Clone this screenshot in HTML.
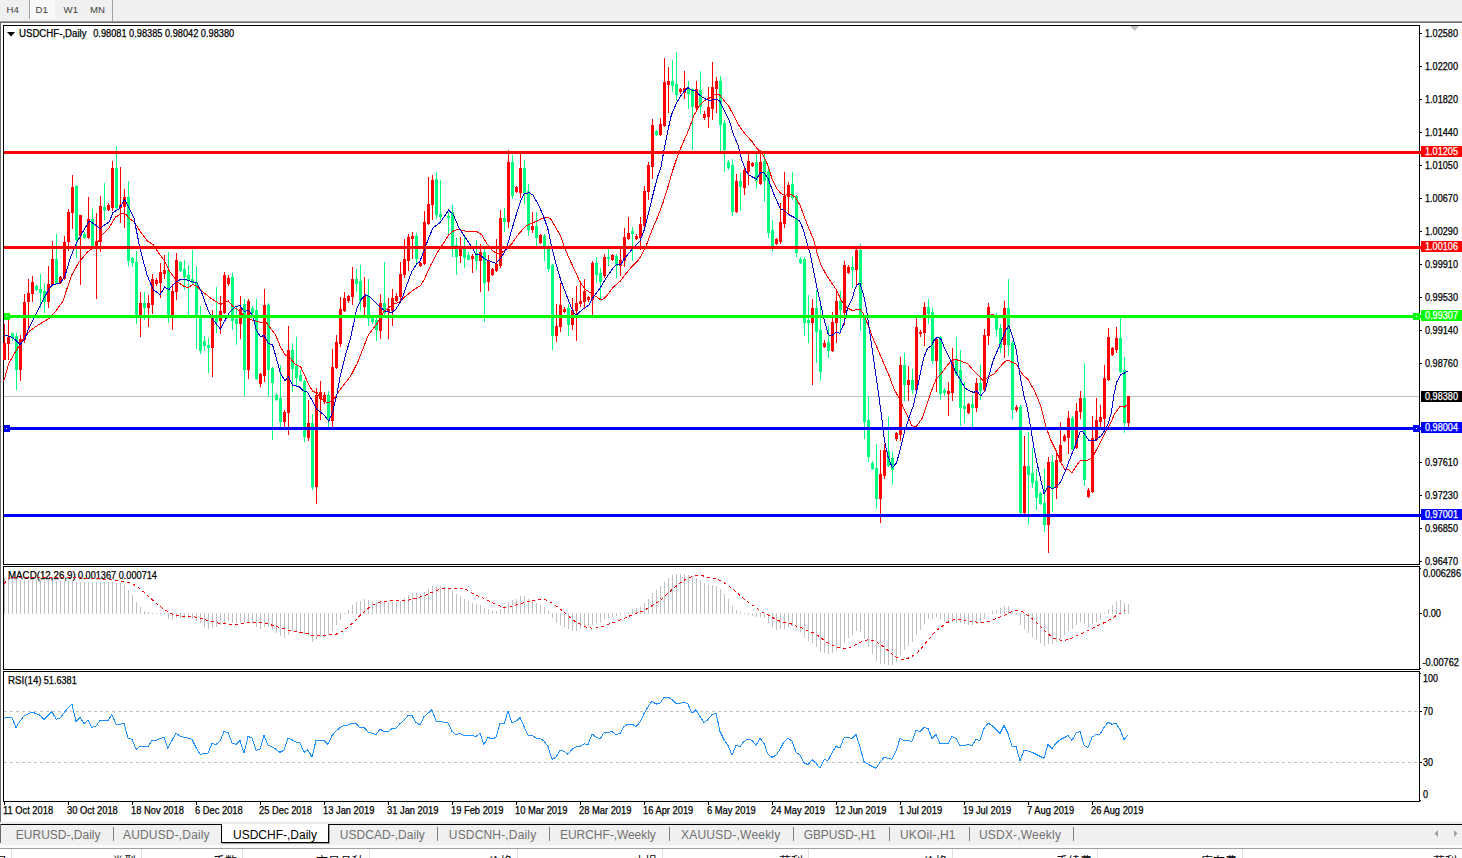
<!DOCTYPE html>
<html lang="zh"><head><meta charset="utf-8"><title>USDCHF-,Daily</title>
<style>
html,body{margin:0;padding:0;background:#fff;}
body{width:1462px;height:858px;overflow:hidden;position:relative;font-family:"Liberation Sans","Noto Sans CJK SC",sans-serif;}
#tb{position:absolute;left:0;top:0;width:1462px;height:21px;background:#f0f0f0;}
#tb span{position:absolute;top:3.75px;font-size:9.6px;line-height:12px;color:#404040;white-space:nowrap;}
#d1{position:absolute;left:30px;top:0;width:25px;height:19px;background:#f8f8f8;}
.vs{position:absolute;top:0;width:1px;height:19px;background:#a0a0a0;}
#chart{position:absolute;left:0;top:0;}
#chart text{font-family:"Liberation Sans",sans-serif;font-size:10px;fill:#000;stroke:#000;stroke-width:.25px;}
#tabs{position:absolute;left:0;top:825px;width:1462px;height:20px;background:#f0f0f0;}
#tabs span{position:absolute;top:3px;font-size:12px;line-height:15px;color:#707070;white-space:nowrap;}
#tabs i{position:absolute;top:2px;width:1px;height:14px;background:#808080;}
#act{position:absolute;left:221px;top:824px;width:106px;height:18px;background:#fff;border:1px solid #000;border-top:none;box-shadow:1px 1px 0 #a0a0a0;}
#act span{position:absolute;left:11px;top:4px;font-size:12px;line-height:15px;color:#000;white-space:nowrap;}
#hdr{position:absolute;left:0;top:849px;width:1462px;height:9px;background:#fff;overflow:hidden;}
#hdr span{position:absolute;top:7px;font-size:12px;line-height:13px;color:#000;white-space:nowrap;}
#hdr i{position:absolute;top:0;width:1px;height:9px;background:#e0e0e0;}
</style></head><body>
<div id="tb"><div id="d1"></div><div class="vs" style="left:29px"></div><div class="vs" style="left:112px;height:21px"></div>
<span style="left:6.6px">H4</span>
<span style="left:35.6px">D1</span>
<span style="left:63.6px">W1</span>
<span style="left:89.9px">MN</span>
</div>
<svg id="chart" width="1462" height="858" viewBox="0 0 1462 858">
<g shape-rendering="crispEdges">
<rect x="0" y="21" width="1462" height="1" fill="#a0a0a0"/>
<rect x="0" y="22" width="1462" height="1" fill="#696969"/>
<rect x="0" y="23" width="1" height="799" fill="#696969"/>
<rect x="3" y="25" width="1417" height="1" fill="#000"/>
<rect x="3" y="564" width="1417" height="1" fill="#000"/>
<rect x="3" y="25" width="1" height="540" fill="#000"/>
<rect x="1419" y="25" width="1" height="540" fill="#000"/>
<rect x="3" y="566" width="1417" height="1" fill="#000"/>
<rect x="3" y="669" width="1417" height="1" fill="#000"/>
<rect x="3" y="566" width="1" height="104" fill="#000"/>
<rect x="1419" y="566" width="1" height="104" fill="#000"/>
<rect x="3" y="671" width="1417" height="1" fill="#000"/>
<rect x="3" y="801" width="1417" height="1" fill="#000"/>
<rect x="3" y="671" width="1" height="131" fill="#000"/>
<rect x="1419" y="671" width="1" height="131" fill="#000"/>
<rect x="4" y="396" width="1415" height="1" fill="#c0c0c0"/>
</g>
<g shape-rendering="crispEdges">
<rect x="4" y="324" width="1" height="36" fill="#ff0000"/>
<rect x="3" y="343" width="3" height="17" fill="#ff0000"/>
<rect x="8" y="318" width="1" height="42" fill="#ff0000"/>
<rect x="7" y="337" width="3" height="7" fill="#ff0000"/>
<rect x="12" y="333" width="1" height="8" fill="#00ff7f"/>
<rect x="11" y="333" width="3" height="5" fill="#00ff7f"/>
<rect x="16" y="333" width="1" height="57" fill="#00ff7f"/>
<rect x="15" y="336" width="3" height="34" fill="#00ff7f"/>
<rect x="20" y="335" width="1" height="46" fill="#ff0000"/>
<rect x="19" y="339" width="3" height="31" fill="#ff0000"/>
<rect x="24" y="294" width="1" height="49" fill="#ff0000"/>
<rect x="23" y="302" width="3" height="38" fill="#ff0000"/>
<rect x="28" y="279" width="1" height="50" fill="#ff0000"/>
<rect x="27" y="293" width="3" height="9" fill="#ff0000"/>
<rect x="32" y="276" width="1" height="26" fill="#ff0000"/>
<rect x="31" y="282" width="3" height="12" fill="#ff0000"/>
<rect x="36" y="285" width="1" height="6" fill="#00ff7f"/>
<rect x="35" y="286" width="3" height="4" fill="#00ff7f"/>
<rect x="40" y="274" width="1" height="34" fill="#00ff7f"/>
<rect x="39" y="289" width="3" height="4" fill="#00ff7f"/>
<rect x="44" y="283" width="1" height="30" fill="#00ff7f"/>
<rect x="43" y="291" width="3" height="11" fill="#00ff7f"/>
<rect x="48" y="266" width="1" height="42" fill="#ff0000"/>
<rect x="47" y="284" width="3" height="18" fill="#ff0000"/>
<rect x="52" y="241" width="1" height="45" fill="#ff0000"/>
<rect x="51" y="259" width="3" height="26" fill="#ff0000"/>
<rect x="56" y="234" width="1" height="50" fill="#00ff7f"/>
<rect x="55" y="259" width="3" height="25" fill="#00ff7f"/>
<rect x="60" y="276" width="1" height="8" fill="#ff0000"/>
<rect x="59" y="277" width="3" height="6" fill="#ff0000"/>
<rect x="64" y="236" width="1" height="44" fill="#ff0000"/>
<rect x="63" y="242" width="3" height="37" fill="#ff0000"/>
<rect x="68" y="209" width="1" height="42" fill="#ff0000"/>
<rect x="67" y="212" width="3" height="30" fill="#ff0000"/>
<rect x="72" y="175" width="1" height="54" fill="#ff0000"/>
<rect x="71" y="187" width="3" height="26" fill="#ff0000"/>
<rect x="76" y="185" width="1" height="73" fill="#00ff7f"/>
<rect x="75" y="186" width="3" height="54" fill="#00ff7f"/>
<rect x="80" y="215" width="1" height="70" fill="#ff0000"/>
<rect x="79" y="215" width="3" height="21" fill="#ff0000"/>
<rect x="84" y="232" width="1" height="7" fill="#00ff7f"/>
<rect x="83" y="234" width="3" height="4" fill="#00ff7f"/>
<rect x="88" y="197" width="1" height="42" fill="#ff0000"/>
<rect x="87" y="219" width="3" height="19" fill="#ff0000"/>
<rect x="92" y="209" width="1" height="39" fill="#00ff7f"/>
<rect x="91" y="219" width="3" height="28" fill="#00ff7f"/>
<rect x="96" y="213" width="1" height="86" fill="#ff0000"/>
<rect x="95" y="241" width="3" height="6" fill="#ff0000"/>
<rect x="100" y="196" width="1" height="56" fill="#ff0000"/>
<rect x="99" y="206" width="3" height="36" fill="#ff0000"/>
<rect x="104" y="183" width="1" height="37" fill="#00ff7f"/>
<rect x="103" y="207" width="3" height="3" fill="#00ff7f"/>
<rect x="108" y="203" width="1" height="8" fill="#ff0000"/>
<rect x="107" y="205" width="3" height="5" fill="#ff0000"/>
<rect x="112" y="161" width="1" height="50" fill="#ff0000"/>
<rect x="111" y="168" width="3" height="40" fill="#ff0000"/>
<rect x="116" y="146" width="1" height="63" fill="#00ff7f"/>
<rect x="115" y="168" width="3" height="40" fill="#00ff7f"/>
<rect x="120" y="167" width="1" height="56" fill="#ff0000"/>
<rect x="119" y="205" width="3" height="3" fill="#ff0000"/>
<rect x="124" y="189" width="1" height="39" fill="#ff0000"/>
<rect x="123" y="197" width="3" height="10" fill="#ff0000"/>
<rect x="128" y="181" width="1" height="85" fill="#00ff7f"/>
<rect x="127" y="197" width="3" height="64" fill="#00ff7f"/>
<rect x="132" y="257" width="1" height="10" fill="#00ff7f"/>
<rect x="131" y="258" width="3" height="5" fill="#00ff7f"/>
<rect x="136" y="251" width="1" height="73" fill="#00ff7f"/>
<rect x="135" y="262" width="3" height="53" fill="#00ff7f"/>
<rect x="140" y="292" width="1" height="45" fill="#ff0000"/>
<rect x="139" y="303" width="3" height="14" fill="#ff0000"/>
<rect x="144" y="292" width="1" height="28" fill="#00ff7f"/>
<rect x="143" y="303" width="3" height="5" fill="#00ff7f"/>
<rect x="148" y="295" width="1" height="32" fill="#ff0000"/>
<rect x="147" y="303" width="3" height="5" fill="#ff0000"/>
<rect x="152" y="274" width="1" height="40" fill="#ff0000"/>
<rect x="151" y="279" width="3" height="26" fill="#ff0000"/>
<rect x="156" y="278" width="1" height="8" fill="#ff0000"/>
<rect x="155" y="280" width="3" height="4" fill="#ff0000"/>
<rect x="160" y="263" width="1" height="35" fill="#ff0000"/>
<rect x="159" y="272" width="3" height="11" fill="#ff0000"/>
<rect x="164" y="255" width="1" height="24" fill="#ff0000"/>
<rect x="163" y="270" width="3" height="4" fill="#ff0000"/>
<rect x="168" y="252" width="1" height="71" fill="#00ff7f"/>
<rect x="167" y="270" width="3" height="45" fill="#00ff7f"/>
<rect x="172" y="284" width="1" height="46" fill="#ff0000"/>
<rect x="171" y="291" width="3" height="24" fill="#ff0000"/>
<rect x="176" y="253" width="1" height="47" fill="#ff0000"/>
<rect x="175" y="260" width="3" height="32" fill="#ff0000"/>
<rect x="180" y="261" width="1" height="11" fill="#00ff7f"/>
<rect x="179" y="262" width="3" height="9" fill="#00ff7f"/>
<rect x="184" y="260" width="1" height="30" fill="#00ff7f"/>
<rect x="183" y="269" width="3" height="8" fill="#00ff7f"/>
<rect x="188" y="265" width="1" height="50" fill="#00ff7f"/>
<rect x="187" y="275" width="3" height="5" fill="#00ff7f"/>
<rect x="192" y="250" width="1" height="34" fill="#00ff7f"/>
<rect x="191" y="279" width="3" height="4" fill="#00ff7f"/>
<rect x="196" y="266" width="1" height="83" fill="#00ff7f"/>
<rect x="195" y="282" width="3" height="35" fill="#00ff7f"/>
<rect x="200" y="306" width="1" height="48" fill="#00ff7f"/>
<rect x="199" y="316" width="3" height="35" fill="#00ff7f"/>
<rect x="204" y="336" width="1" height="15" fill="#00ff7f"/>
<rect x="203" y="341" width="3" height="5" fill="#00ff7f"/>
<rect x="208" y="338" width="1" height="35" fill="#00ff7f"/>
<rect x="207" y="345" width="3" height="3" fill="#00ff7f"/>
<rect x="212" y="310" width="1" height="67" fill="#ff0000"/>
<rect x="211" y="316" width="3" height="32" fill="#ff0000"/>
<rect x="216" y="287" width="1" height="46" fill="#00ff7f"/>
<rect x="215" y="316" width="3" height="6" fill="#00ff7f"/>
<rect x="220" y="296" width="1" height="38" fill="#ff0000"/>
<rect x="219" y="311" width="3" height="10" fill="#ff0000"/>
<rect x="224" y="272" width="1" height="42" fill="#ff0000"/>
<rect x="223" y="275" width="3" height="38" fill="#ff0000"/>
<rect x="228" y="275" width="1" height="11" fill="#ff0000"/>
<rect x="227" y="278" width="3" height="6" fill="#ff0000"/>
<rect x="232" y="273" width="1" height="57" fill="#00ff7f"/>
<rect x="231" y="277" width="3" height="44" fill="#00ff7f"/>
<rect x="236" y="306" width="1" height="39" fill="#00ff7f"/>
<rect x="235" y="319" width="3" height="5" fill="#00ff7f"/>
<rect x="240" y="296" width="1" height="43" fill="#ff0000"/>
<rect x="239" y="309" width="3" height="15" fill="#ff0000"/>
<rect x="244" y="299" width="1" height="97" fill="#00ff7f"/>
<rect x="243" y="304" width="3" height="66" fill="#00ff7f"/>
<rect x="248" y="299" width="1" height="80" fill="#ff0000"/>
<rect x="247" y="301" width="3" height="69" fill="#ff0000"/>
<rect x="252" y="306" width="1" height="9" fill="#00ff7f"/>
<rect x="251" y="308" width="3" height="5" fill="#00ff7f"/>
<rect x="256" y="299" width="1" height="81" fill="#00ff7f"/>
<rect x="255" y="310" width="3" height="69" fill="#00ff7f"/>
<rect x="260" y="373" width="1" height="14" fill="#ff0000"/>
<rect x="259" y="374" width="3" height="10" fill="#ff0000"/>
<rect x="264" y="289" width="1" height="93" fill="#ff0000"/>
<rect x="263" y="305" width="3" height="71" fill="#ff0000"/>
<rect x="268" y="303" width="1" height="94" fill="#00ff7f"/>
<rect x="267" y="305" width="3" height="65" fill="#00ff7f"/>
<rect x="272" y="367" width="1" height="73" fill="#00ff7f"/>
<rect x="271" y="368" width="3" height="15" fill="#00ff7f"/>
<rect x="276" y="393" width="1" height="8" fill="#00ff7f"/>
<rect x="275" y="395" width="3" height="5" fill="#00ff7f"/>
<rect x="280" y="365" width="1" height="64" fill="#00ff7f"/>
<rect x="279" y="398" width="3" height="24" fill="#00ff7f"/>
<rect x="284" y="410" width="1" height="17" fill="#ff0000"/>
<rect x="283" y="412" width="3" height="10" fill="#ff0000"/>
<rect x="288" y="326" width="1" height="109" fill="#ff0000"/>
<rect x="287" y="350" width="3" height="63" fill="#ff0000"/>
<rect x="292" y="343" width="1" height="49" fill="#00ff7f"/>
<rect x="291" y="350" width="3" height="19" fill="#00ff7f"/>
<rect x="296" y="337" width="1" height="49" fill="#00ff7f"/>
<rect x="295" y="366" width="3" height="12" fill="#00ff7f"/>
<rect x="300" y="370" width="1" height="12" fill="#00ff7f"/>
<rect x="299" y="375" width="3" height="6" fill="#00ff7f"/>
<rect x="304" y="380" width="1" height="62" fill="#00ff7f"/>
<rect x="303" y="381" width="3" height="56" fill="#00ff7f"/>
<rect x="308" y="400" width="1" height="41" fill="#ff0000"/>
<rect x="307" y="423" width="3" height="15" fill="#ff0000"/>
<rect x="312" y="414" width="1" height="76" fill="#00ff7f"/>
<rect x="311" y="423" width="3" height="64" fill="#00ff7f"/>
<rect x="316" y="388" width="1" height="116" fill="#ff0000"/>
<rect x="315" y="395" width="3" height="92" fill="#ff0000"/>
<rect x="320" y="381" width="1" height="39" fill="#ff0000"/>
<rect x="319" y="392" width="3" height="7" fill="#ff0000"/>
<rect x="324" y="392" width="1" height="12" fill="#ff0000"/>
<rect x="323" y="395" width="3" height="7" fill="#ff0000"/>
<rect x="328" y="391" width="1" height="37" fill="#00ff7f"/>
<rect x="327" y="395" width="3" height="25" fill="#00ff7f"/>
<rect x="332" y="349" width="1" height="79" fill="#ff0000"/>
<rect x="331" y="367" width="3" height="54" fill="#ff0000"/>
<rect x="336" y="335" width="1" height="34" fill="#ff0000"/>
<rect x="335" y="342" width="3" height="26" fill="#ff0000"/>
<rect x="340" y="297" width="1" height="50" fill="#ff0000"/>
<rect x="339" y="309" width="3" height="35" fill="#ff0000"/>
<rect x="344" y="292" width="1" height="20" fill="#ff0000"/>
<rect x="343" y="298" width="3" height="13" fill="#ff0000"/>
<rect x="348" y="295" width="1" height="8" fill="#ff0000"/>
<rect x="347" y="296" width="3" height="5" fill="#ff0000"/>
<rect x="352" y="267" width="1" height="38" fill="#ff0000"/>
<rect x="351" y="279" width="3" height="18" fill="#ff0000"/>
<rect x="356" y="269" width="1" height="23" fill="#00ff7f"/>
<rect x="355" y="279" width="3" height="5" fill="#00ff7f"/>
<rect x="360" y="265" width="1" height="46" fill="#00ff7f"/>
<rect x="359" y="281" width="3" height="20" fill="#00ff7f"/>
<rect x="364" y="277" width="1" height="38" fill="#ff0000"/>
<rect x="363" y="296" width="3" height="11" fill="#ff0000"/>
<rect x="368" y="279" width="1" height="47" fill="#00ff7f"/>
<rect x="367" y="296" width="3" height="23" fill="#00ff7f"/>
<rect x="372" y="317" width="1" height="7" fill="#00ff7f"/>
<rect x="371" y="318" width="3" height="4" fill="#00ff7f"/>
<rect x="376" y="317" width="1" height="24" fill="#00ff7f"/>
<rect x="375" y="320" width="3" height="10" fill="#00ff7f"/>
<rect x="380" y="294" width="1" height="45" fill="#ff0000"/>
<rect x="379" y="303" width="3" height="28" fill="#ff0000"/>
<rect x="384" y="262" width="1" height="53" fill="#00ff7f"/>
<rect x="383" y="303" width="3" height="10" fill="#00ff7f"/>
<rect x="388" y="298" width="1" height="41" fill="#ff0000"/>
<rect x="387" y="309" width="3" height="3" fill="#ff0000"/>
<rect x="392" y="289" width="1" height="37" fill="#ff0000"/>
<rect x="391" y="298" width="3" height="13" fill="#ff0000"/>
<rect x="396" y="293" width="1" height="9" fill="#ff0000"/>
<rect x="395" y="296" width="3" height="5" fill="#ff0000"/>
<rect x="400" y="262" width="1" height="39" fill="#ff0000"/>
<rect x="399" y="274" width="3" height="23" fill="#ff0000"/>
<rect x="404" y="239" width="1" height="39" fill="#ff0000"/>
<rect x="403" y="259" width="3" height="16" fill="#ff0000"/>
<rect x="408" y="234" width="1" height="37" fill="#ff0000"/>
<rect x="407" y="237" width="3" height="24" fill="#ff0000"/>
<rect x="412" y="232" width="1" height="27" fill="#ff0000"/>
<rect x="411" y="236" width="3" height="3" fill="#ff0000"/>
<rect x="416" y="233" width="1" height="30" fill="#00ff7f"/>
<rect x="415" y="236" width="3" height="23" fill="#00ff7f"/>
<rect x="420" y="262" width="1" height="5" fill="#ff0000"/>
<rect x="419" y="263" width="3" height="3" fill="#ff0000"/>
<rect x="424" y="211" width="1" height="54" fill="#ff0000"/>
<rect x="423" y="222" width="3" height="42" fill="#ff0000"/>
<rect x="428" y="177" width="1" height="48" fill="#ff0000"/>
<rect x="427" y="204" width="3" height="20" fill="#ff0000"/>
<rect x="432" y="175" width="1" height="45" fill="#ff0000"/>
<rect x="431" y="180" width="3" height="25" fill="#ff0000"/>
<rect x="436" y="172" width="1" height="47" fill="#00ff7f"/>
<rect x="435" y="179" width="3" height="36" fill="#00ff7f"/>
<rect x="440" y="180" width="1" height="40" fill="#00ff7f"/>
<rect x="439" y="214" width="3" height="3" fill="#00ff7f"/>
<rect x="448" y="212" width="1" height="24" fill="#00ff7f"/>
<rect x="447" y="216" width="3" height="2" fill="#00ff7f"/>
<rect x="452" y="205" width="1" height="52" fill="#00ff7f"/>
<rect x="451" y="212" width="3" height="35" fill="#00ff7f"/>
<rect x="456" y="238" width="1" height="37" fill="#00ff7f"/>
<rect x="455" y="245" width="3" height="12" fill="#00ff7f"/>
<rect x="460" y="237" width="1" height="26" fill="#ff0000"/>
<rect x="459" y="248" width="3" height="8" fill="#ff0000"/>
<rect x="464" y="237" width="1" height="31" fill="#00ff7f"/>
<rect x="463" y="249" width="3" height="9" fill="#00ff7f"/>
<rect x="468" y="252" width="1" height="8" fill="#00ff7f"/>
<rect x="467" y="255" width="3" height="5" fill="#00ff7f"/>
<rect x="472" y="254" width="1" height="19" fill="#ff0000"/>
<rect x="471" y="256" width="3" height="3" fill="#ff0000"/>
<rect x="476" y="240" width="1" height="30" fill="#00ff7f"/>
<rect x="475" y="253" width="3" height="8" fill="#00ff7f"/>
<rect x="480" y="244" width="1" height="48" fill="#ff0000"/>
<rect x="479" y="252" width="3" height="9" fill="#ff0000"/>
<rect x="484" y="249" width="1" height="73" fill="#00ff7f"/>
<rect x="483" y="252" width="3" height="31" fill="#00ff7f"/>
<rect x="488" y="255" width="1" height="36" fill="#ff0000"/>
<rect x="487" y="260" width="3" height="22" fill="#ff0000"/>
<rect x="492" y="268" width="1" height="8" fill="#ff0000"/>
<rect x="491" y="269" width="3" height="6" fill="#ff0000"/>
<rect x="496" y="239" width="1" height="33" fill="#ff0000"/>
<rect x="495" y="264" width="3" height="7" fill="#ff0000"/>
<rect x="500" y="210" width="1" height="58" fill="#ff0000"/>
<rect x="499" y="218" width="3" height="48" fill="#ff0000"/>
<rect x="504" y="208" width="1" height="24" fill="#00ff7f"/>
<rect x="503" y="218" width="3" height="4" fill="#00ff7f"/>
<rect x="508" y="150" width="1" height="78" fill="#ff0000"/>
<rect x="507" y="162" width="3" height="60" fill="#ff0000"/>
<rect x="512" y="155" width="1" height="44" fill="#00ff7f"/>
<rect x="511" y="162" width="3" height="34" fill="#00ff7f"/>
<rect x="516" y="186" width="1" height="7" fill="#ff0000"/>
<rect x="515" y="187" width="3" height="5" fill="#ff0000"/>
<rect x="520" y="154" width="1" height="44" fill="#ff0000"/>
<rect x="519" y="168" width="3" height="25" fill="#ff0000"/>
<rect x="524" y="160" width="1" height="44" fill="#00ff7f"/>
<rect x="523" y="168" width="3" height="25" fill="#00ff7f"/>
<rect x="528" y="184" width="1" height="52" fill="#00ff7f"/>
<rect x="527" y="191" width="3" height="39" fill="#00ff7f"/>
<rect x="532" y="212" width="1" height="21" fill="#ff0000"/>
<rect x="531" y="226" width="3" height="4" fill="#ff0000"/>
<rect x="536" y="212" width="1" height="35" fill="#00ff7f"/>
<rect x="535" y="226" width="3" height="12" fill="#00ff7f"/>
<rect x="540" y="234" width="1" height="10" fill="#ff0000"/>
<rect x="539" y="235" width="3" height="8" fill="#ff0000"/>
<rect x="544" y="234" width="1" height="27" fill="#00ff7f"/>
<rect x="543" y="236" width="3" height="11" fill="#00ff7f"/>
<rect x="548" y="245" width="1" height="27" fill="#00ff7f"/>
<rect x="547" y="248" width="3" height="21" fill="#00ff7f"/>
<rect x="552" y="264" width="1" height="86" fill="#00ff7f"/>
<rect x="551" y="265" width="3" height="71" fill="#00ff7f"/>
<rect x="556" y="304" width="1" height="38" fill="#ff0000"/>
<rect x="555" y="326" width="3" height="10" fill="#ff0000"/>
<rect x="560" y="283" width="1" height="49" fill="#ff0000"/>
<rect x="559" y="305" width="3" height="22" fill="#ff0000"/>
<rect x="564" y="307" width="1" height="6" fill="#ff0000"/>
<rect x="563" y="309" width="3" height="3" fill="#ff0000"/>
<rect x="568" y="304" width="1" height="32" fill="#00ff7f"/>
<rect x="567" y="308" width="3" height="17" fill="#00ff7f"/>
<rect x="572" y="298" width="1" height="32" fill="#ff0000"/>
<rect x="571" y="310" width="3" height="15" fill="#ff0000"/>
<rect x="576" y="286" width="1" height="55" fill="#ff0000"/>
<rect x="575" y="303" width="3" height="8" fill="#ff0000"/>
<rect x="580" y="281" width="1" height="26" fill="#ff0000"/>
<rect x="579" y="301" width="3" height="3" fill="#ff0000"/>
<rect x="584" y="279" width="1" height="29" fill="#ff0000"/>
<rect x="583" y="291" width="3" height="11" fill="#ff0000"/>
<rect x="588" y="296" width="1" height="6" fill="#ff0000"/>
<rect x="587" y="297" width="3" height="3" fill="#ff0000"/>
<rect x="592" y="261" width="1" height="55" fill="#ff0000"/>
<rect x="591" y="263" width="3" height="37" fill="#ff0000"/>
<rect x="596" y="257" width="1" height="26" fill="#00ff7f"/>
<rect x="595" y="263" width="3" height="12" fill="#00ff7f"/>
<rect x="600" y="268" width="1" height="31" fill="#00ff7f"/>
<rect x="599" y="273" width="3" height="9" fill="#00ff7f"/>
<rect x="604" y="254" width="1" height="24" fill="#ff0000"/>
<rect x="603" y="257" width="3" height="19" fill="#ff0000"/>
<rect x="608" y="249" width="1" height="17" fill="#00ff7f"/>
<rect x="607" y="257" width="3" height="2" fill="#00ff7f"/>
<rect x="612" y="254" width="1" height="7" fill="#ff0000"/>
<rect x="611" y="255" width="3" height="5" fill="#ff0000"/>
<rect x="616" y="254" width="1" height="24" fill="#00ff7f"/>
<rect x="615" y="256" width="3" height="10" fill="#00ff7f"/>
<rect x="620" y="248" width="1" height="28" fill="#ff0000"/>
<rect x="619" y="260" width="3" height="6" fill="#ff0000"/>
<rect x="624" y="228" width="1" height="39" fill="#ff0000"/>
<rect x="623" y="237" width="3" height="24" fill="#ff0000"/>
<rect x="628" y="217" width="1" height="23" fill="#ff0000"/>
<rect x="627" y="233" width="3" height="6" fill="#ff0000"/>
<rect x="632" y="227" width="1" height="34" fill="#00ff7f"/>
<rect x="631" y="231" width="3" height="3" fill="#00ff7f"/>
<rect x="636" y="234" width="1" height="6" fill="#ff0000"/>
<rect x="635" y="236" width="3" height="3" fill="#ff0000"/>
<rect x="640" y="217" width="1" height="33" fill="#ff0000"/>
<rect x="639" y="224" width="3" height="14" fill="#ff0000"/>
<rect x="644" y="186" width="1" height="41" fill="#ff0000"/>
<rect x="643" y="191" width="3" height="35" fill="#ff0000"/>
<rect x="648" y="162" width="1" height="38" fill="#ff0000"/>
<rect x="647" y="165" width="3" height="27" fill="#ff0000"/>
<rect x="652" y="119" width="1" height="60" fill="#ff0000"/>
<rect x="651" y="125" width="3" height="42" fill="#ff0000"/>
<rect x="656" y="130" width="1" height="6" fill="#00ff7f"/>
<rect x="655" y="131" width="3" height="4" fill="#00ff7f"/>
<rect x="660" y="118" width="1" height="18" fill="#ff0000"/>
<rect x="659" y="124" width="3" height="11" fill="#ff0000"/>
<rect x="664" y="58" width="1" height="69" fill="#ff0000"/>
<rect x="663" y="82" width="3" height="44" fill="#ff0000"/>
<rect x="668" y="67" width="1" height="46" fill="#ff0000"/>
<rect x="667" y="81" width="3" height="4" fill="#ff0000"/>
<rect x="672" y="60" width="1" height="32" fill="#00ff7f"/>
<rect x="671" y="81" width="3" height="5" fill="#00ff7f"/>
<rect x="676" y="52" width="1" height="48" fill="#00ff7f"/>
<rect x="675" y="84" width="3" height="11" fill="#00ff7f"/>
<rect x="680" y="88" width="1" height="6" fill="#ff0000"/>
<rect x="679" y="89" width="3" height="3" fill="#ff0000"/>
<rect x="684" y="71" width="1" height="28" fill="#ff0000"/>
<rect x="683" y="88" width="3" height="5" fill="#ff0000"/>
<rect x="688" y="81" width="1" height="28" fill="#00ff7f"/>
<rect x="687" y="88" width="3" height="6" fill="#00ff7f"/>
<rect x="692" y="88" width="1" height="62" fill="#00ff7f"/>
<rect x="691" y="89" width="3" height="18" fill="#00ff7f"/>
<rect x="696" y="81" width="1" height="29" fill="#ff0000"/>
<rect x="695" y="89" width="3" height="19" fill="#ff0000"/>
<rect x="700" y="71" width="1" height="43" fill="#00ff7f"/>
<rect x="699" y="90" width="3" height="17" fill="#00ff7f"/>
<rect x="704" y="111" width="1" height="9" fill="#ff0000"/>
<rect x="703" y="114" width="3" height="4" fill="#ff0000"/>
<rect x="708" y="87" width="1" height="41" fill="#ff0000"/>
<rect x="707" y="107" width="3" height="10" fill="#ff0000"/>
<rect x="712" y="62" width="1" height="58" fill="#ff0000"/>
<rect x="711" y="87" width="3" height="22" fill="#ff0000"/>
<rect x="716" y="77" width="1" height="36" fill="#ff0000"/>
<rect x="715" y="81" width="3" height="8" fill="#ff0000"/>
<rect x="720" y="76" width="1" height="76" fill="#00ff7f"/>
<rect x="719" y="81" width="3" height="44" fill="#00ff7f"/>
<rect x="724" y="120" width="1" height="52" fill="#00ff7f"/>
<rect x="723" y="123" width="3" height="27" fill="#00ff7f"/>
<rect x="728" y="160" width="1" height="10" fill="#00ff7f"/>
<rect x="727" y="162" width="3" height="6" fill="#00ff7f"/>
<rect x="732" y="159" width="1" height="57" fill="#00ff7f"/>
<rect x="731" y="165" width="3" height="47" fill="#00ff7f"/>
<rect x="736" y="174" width="1" height="39" fill="#ff0000"/>
<rect x="735" y="181" width="3" height="31" fill="#ff0000"/>
<rect x="740" y="173" width="1" height="38" fill="#00ff7f"/>
<rect x="739" y="181" width="3" height="6" fill="#00ff7f"/>
<rect x="744" y="166" width="1" height="29" fill="#ff0000"/>
<rect x="743" y="170" width="3" height="18" fill="#ff0000"/>
<rect x="748" y="154" width="1" height="31" fill="#ff0000"/>
<rect x="747" y="161" width="3" height="11" fill="#ff0000"/>
<rect x="752" y="162" width="1" height="5" fill="#ff0000"/>
<rect x="751" y="163" width="3" height="3" fill="#ff0000"/>
<rect x="756" y="154" width="1" height="35" fill="#00ff7f"/>
<rect x="755" y="162" width="3" height="19" fill="#00ff7f"/>
<rect x="760" y="150" width="1" height="35" fill="#ff0000"/>
<rect x="759" y="162" width="3" height="22" fill="#ff0000"/>
<rect x="764" y="154" width="1" height="48" fill="#00ff7f"/>
<rect x="763" y="161" width="3" height="20" fill="#00ff7f"/>
<rect x="768" y="166" width="1" height="72" fill="#00ff7f"/>
<rect x="767" y="171" width="3" height="62" fill="#00ff7f"/>
<rect x="772" y="220" width="1" height="32" fill="#00ff7f"/>
<rect x="771" y="230" width="3" height="16" fill="#00ff7f"/>
<rect x="776" y="238" width="1" height="7" fill="#ff0000"/>
<rect x="775" y="239" width="3" height="5" fill="#ff0000"/>
<rect x="780" y="203" width="1" height="41" fill="#ff0000"/>
<rect x="779" y="222" width="3" height="20" fill="#ff0000"/>
<rect x="784" y="172" width="1" height="56" fill="#ff0000"/>
<rect x="783" y="196" width="3" height="28" fill="#ff0000"/>
<rect x="788" y="182" width="1" height="32" fill="#ff0000"/>
<rect x="787" y="185" width="3" height="12" fill="#ff0000"/>
<rect x="792" y="172" width="1" height="28" fill="#00ff7f"/>
<rect x="791" y="184" width="3" height="14" fill="#00ff7f"/>
<rect x="796" y="195" width="1" height="62" fill="#00ff7f"/>
<rect x="795" y="196" width="3" height="57" fill="#00ff7f"/>
<rect x="800" y="257" width="1" height="7" fill="#00ff7f"/>
<rect x="799" y="259" width="3" height="4" fill="#00ff7f"/>
<rect x="804" y="257" width="1" height="79" fill="#00ff7f"/>
<rect x="803" y="259" width="3" height="64" fill="#00ff7f"/>
<rect x="808" y="295" width="1" height="48" fill="#00ff7f"/>
<rect x="807" y="320" width="3" height="3" fill="#00ff7f"/>
<rect x="812" y="299" width="1" height="86" fill="#ff0000"/>
<rect x="811" y="308" width="3" height="15" fill="#ff0000"/>
<rect x="816" y="290" width="1" height="73" fill="#00ff7f"/>
<rect x="815" y="308" width="3" height="24" fill="#00ff7f"/>
<rect x="820" y="300" width="1" height="81" fill="#00ff7f"/>
<rect x="819" y="330" width="3" height="42" fill="#00ff7f"/>
<rect x="824" y="340" width="1" height="8" fill="#ff0000"/>
<rect x="823" y="343" width="3" height="4" fill="#ff0000"/>
<rect x="828" y="326" width="1" height="32" fill="#00ff7f"/>
<rect x="827" y="342" width="3" height="9" fill="#00ff7f"/>
<rect x="832" y="312" width="1" height="40" fill="#ff0000"/>
<rect x="831" y="322" width="3" height="29" fill="#ff0000"/>
<rect x="836" y="291" width="1" height="52" fill="#ff0000"/>
<rect x="835" y="301" width="3" height="22" fill="#ff0000"/>
<rect x="840" y="291" width="1" height="39" fill="#00ff7f"/>
<rect x="839" y="301" width="3" height="9" fill="#00ff7f"/>
<rect x="844" y="261" width="1" height="64" fill="#ff0000"/>
<rect x="843" y="265" width="3" height="48" fill="#ff0000"/>
<rect x="848" y="265" width="1" height="9" fill="#ff0000"/>
<rect x="847" y="267" width="3" height="6" fill="#ff0000"/>
<rect x="852" y="257" width="1" height="31" fill="#00ff7f"/>
<rect x="851" y="267" width="3" height="3" fill="#00ff7f"/>
<rect x="856" y="249" width="1" height="37" fill="#ff0000"/>
<rect x="855" y="250" width="3" height="20" fill="#ff0000"/>
<rect x="860" y="244" width="1" height="87" fill="#00ff7f"/>
<rect x="859" y="250" width="3" height="68" fill="#00ff7f"/>
<rect x="864" y="316" width="1" height="123" fill="#00ff7f"/>
<rect x="863" y="317" width="3" height="105" fill="#00ff7f"/>
<rect x="868" y="396" width="1" height="66" fill="#00ff7f"/>
<rect x="867" y="420" width="3" height="37" fill="#00ff7f"/>
<rect x="872" y="461" width="1" height="9" fill="#00ff7f"/>
<rect x="871" y="463" width="3" height="6" fill="#00ff7f"/>
<rect x="876" y="444" width="1" height="65" fill="#00ff7f"/>
<rect x="875" y="468" width="3" height="31" fill="#00ff7f"/>
<rect x="880" y="450" width="1" height="73" fill="#ff0000"/>
<rect x="879" y="474" width="3" height="25" fill="#ff0000"/>
<rect x="884" y="444" width="1" height="35" fill="#ff0000"/>
<rect x="883" y="450" width="3" height="26" fill="#ff0000"/>
<rect x="888" y="417" width="1" height="50" fill="#00ff7f"/>
<rect x="887" y="451" width="3" height="15" fill="#00ff7f"/>
<rect x="892" y="452" width="1" height="33" fill="#00ff7f"/>
<rect x="891" y="458" width="3" height="12" fill="#00ff7f"/>
<rect x="896" y="432" width="1" height="9" fill="#ff0000"/>
<rect x="895" y="433" width="3" height="6" fill="#ff0000"/>
<rect x="900" y="357" width="1" height="84" fill="#ff0000"/>
<rect x="899" y="365" width="3" height="70" fill="#ff0000"/>
<rect x="904" y="353" width="1" height="48" fill="#00ff7f"/>
<rect x="903" y="365" width="3" height="20" fill="#00ff7f"/>
<rect x="908" y="366" width="1" height="35" fill="#ff0000"/>
<rect x="907" y="380" width="3" height="5" fill="#ff0000"/>
<rect x="912" y="369" width="1" height="25" fill="#00ff7f"/>
<rect x="911" y="380" width="3" height="10" fill="#00ff7f"/>
<rect x="916" y="318" width="1" height="73" fill="#ff0000"/>
<rect x="915" y="327" width="3" height="63" fill="#ff0000"/>
<rect x="920" y="330" width="1" height="7" fill="#ff0000"/>
<rect x="919" y="332" width="3" height="2" fill="#ff0000"/>
<rect x="924" y="302" width="1" height="44" fill="#ff0000"/>
<rect x="923" y="307" width="3" height="26" fill="#ff0000"/>
<rect x="928" y="299" width="1" height="25" fill="#00ff7f"/>
<rect x="927" y="307" width="3" height="7" fill="#00ff7f"/>
<rect x="932" y="308" width="1" height="56" fill="#00ff7f"/>
<rect x="931" y="312" width="3" height="49" fill="#00ff7f"/>
<rect x="936" y="337" width="1" height="55" fill="#ff0000"/>
<rect x="935" y="339" width="3" height="22" fill="#ff0000"/>
<rect x="940" y="336" width="1" height="64" fill="#00ff7f"/>
<rect x="939" y="337" width="3" height="57" fill="#00ff7f"/>
<rect x="944" y="388" width="1" height="8" fill="#00ff7f"/>
<rect x="943" y="390" width="3" height="3" fill="#00ff7f"/>
<rect x="948" y="382" width="1" height="34" fill="#ff0000"/>
<rect x="947" y="391" width="3" height="3" fill="#ff0000"/>
<rect x="952" y="348" width="1" height="53" fill="#ff0000"/>
<rect x="951" y="362" width="3" height="31" fill="#ff0000"/>
<rect x="956" y="337" width="1" height="39" fill="#00ff7f"/>
<rect x="955" y="359" width="3" height="16" fill="#00ff7f"/>
<rect x="960" y="350" width="1" height="76" fill="#00ff7f"/>
<rect x="959" y="370" width="3" height="38" fill="#00ff7f"/>
<rect x="964" y="382" width="1" height="41" fill="#00ff7f"/>
<rect x="963" y="406" width="3" height="3" fill="#00ff7f"/>
<rect x="968" y="403" width="1" height="11" fill="#ff0000"/>
<rect x="967" y="404" width="3" height="9" fill="#ff0000"/>
<rect x="972" y="395" width="1" height="33" fill="#00ff7f"/>
<rect x="971" y="404" width="3" height="4" fill="#00ff7f"/>
<rect x="976" y="378" width="1" height="34" fill="#ff0000"/>
<rect x="975" y="383" width="3" height="25" fill="#ff0000"/>
<rect x="980" y="365" width="1" height="35" fill="#00ff7f"/>
<rect x="979" y="383" width="3" height="8" fill="#00ff7f"/>
<rect x="984" y="329" width="1" height="62" fill="#ff0000"/>
<rect x="983" y="335" width="3" height="55" fill="#ff0000"/>
<rect x="988" y="303" width="1" height="42" fill="#ff0000"/>
<rect x="987" y="307" width="3" height="29" fill="#ff0000"/>
<rect x="992" y="314" width="1" height="1" fill="#ff0000"/>
<rect x="991" y="314" width="3" height="1" fill="#ff0000"/>
<rect x="996" y="313" width="1" height="24" fill="#00ff7f"/>
<rect x="995" y="315" width="3" height="15" fill="#00ff7f"/>
<rect x="1000" y="324" width="1" height="29" fill="#00ff7f"/>
<rect x="999" y="328" width="3" height="20" fill="#00ff7f"/>
<rect x="1004" y="301" width="1" height="57" fill="#ff0000"/>
<rect x="1003" y="308" width="3" height="37" fill="#ff0000"/>
<rect x="1008" y="279" width="1" height="77" fill="#00ff7f"/>
<rect x="1007" y="308" width="3" height="37" fill="#00ff7f"/>
<rect x="1012" y="341" width="1" height="78" fill="#00ff7f"/>
<rect x="1011" y="343" width="3" height="67" fill="#00ff7f"/>
<rect x="1016" y="405" width="1" height="7" fill="#ff0000"/>
<rect x="1015" y="407" width="3" height="3" fill="#ff0000"/>
<rect x="1020" y="405" width="1" height="109" fill="#00ff7f"/>
<rect x="1019" y="407" width="3" height="106" fill="#00ff7f"/>
<rect x="1024" y="436" width="1" height="78" fill="#ff0000"/>
<rect x="1023" y="466" width="3" height="47" fill="#ff0000"/>
<rect x="1028" y="432" width="1" height="93" fill="#00ff7f"/>
<rect x="1027" y="466" width="3" height="9" fill="#00ff7f"/>
<rect x="1032" y="448" width="1" height="40" fill="#00ff7f"/>
<rect x="1031" y="473" width="3" height="10" fill="#00ff7f"/>
<rect x="1036" y="469" width="1" height="41" fill="#00ff7f"/>
<rect x="1035" y="481" width="3" height="17" fill="#00ff7f"/>
<rect x="1040" y="492" width="1" height="13" fill="#00ff7f"/>
<rect x="1039" y="493" width="3" height="11" fill="#00ff7f"/>
<rect x="1044" y="469" width="1" height="63" fill="#00ff7f"/>
<rect x="1043" y="503" width="3" height="22" fill="#00ff7f"/>
<rect x="1048" y="457" width="1" height="96" fill="#ff0000"/>
<rect x="1047" y="462" width="3" height="63" fill="#ff0000"/>
<rect x="1052" y="455" width="1" height="57" fill="#00ff7f"/>
<rect x="1051" y="462" width="3" height="26" fill="#00ff7f"/>
<rect x="1056" y="451" width="1" height="48" fill="#ff0000"/>
<rect x="1055" y="460" width="3" height="28" fill="#ff0000"/>
<rect x="1060" y="422" width="1" height="41" fill="#ff0000"/>
<rect x="1059" y="445" width="3" height="17" fill="#ff0000"/>
<rect x="1064" y="434" width="1" height="8" fill="#ff0000"/>
<rect x="1063" y="436" width="3" height="5" fill="#ff0000"/>
<rect x="1068" y="411" width="1" height="43" fill="#ff0000"/>
<rect x="1067" y="418" width="3" height="20" fill="#ff0000"/>
<rect x="1072" y="416" width="1" height="34" fill="#00ff7f"/>
<rect x="1071" y="418" width="3" height="31" fill="#00ff7f"/>
<rect x="1076" y="403" width="1" height="46" fill="#ff0000"/>
<rect x="1075" y="411" width="3" height="37" fill="#ff0000"/>
<rect x="1080" y="391" width="1" height="28" fill="#ff0000"/>
<rect x="1079" y="398" width="3" height="14" fill="#ff0000"/>
<rect x="1084" y="363" width="1" height="123" fill="#00ff7f"/>
<rect x="1083" y="398" width="3" height="82" fill="#00ff7f"/>
<rect x="1088" y="488" width="1" height="10" fill="#ff0000"/>
<rect x="1087" y="490" width="3" height="7" fill="#ff0000"/>
<rect x="1092" y="416" width="1" height="77" fill="#ff0000"/>
<rect x="1091" y="438" width="3" height="54" fill="#ff0000"/>
<rect x="1096" y="398" width="1" height="43" fill="#ff0000"/>
<rect x="1095" y="420" width="3" height="20" fill="#ff0000"/>
<rect x="1100" y="405" width="1" height="22" fill="#ff0000"/>
<rect x="1099" y="417" width="3" height="5" fill="#ff0000"/>
<rect x="1104" y="365" width="1" height="63" fill="#ff0000"/>
<rect x="1103" y="378" width="3" height="41" fill="#ff0000"/>
<rect x="1108" y="328" width="1" height="53" fill="#ff0000"/>
<rect x="1107" y="337" width="3" height="43" fill="#ff0000"/>
<rect x="1112" y="347" width="1" height="9" fill="#ff0000"/>
<rect x="1111" y="348" width="3" height="7" fill="#ff0000"/>
<rect x="1116" y="327" width="1" height="26" fill="#ff0000"/>
<rect x="1115" y="338" width="3" height="12" fill="#ff0000"/>
<rect x="1120" y="317" width="1" height="56" fill="#00ff7f"/>
<rect x="1119" y="338" width="3" height="34" fill="#00ff7f"/>
<rect x="1124" y="357" width="1" height="76" fill="#00ff7f"/>
<rect x="1123" y="370" width="3" height="53" fill="#00ff7f"/>
<rect x="1128" y="396" width="1" height="31" fill="#ff0000"/>
<rect x="1127" y="396" width="3" height="27" fill="#ff0000"/>
</g>
<polyline points="3.9,380.8 8.8,363.3 15.8,351.0 22.8,339.6 29.8,330.9 38.5,324.8 49.0,318.6 56.0,310.8 63.0,301.0 66.5,290.0 71.8,274.8 78.8,262.5 87.5,252.0 95.4,245.9 101.6,235.4 108.6,228.4 115.6,217.0 122.6,213.2 126.0,214.4 129.6,218.8 133.9,221.4 140.0,231.0 147.0,240.6 153.2,244.7 159.3,253.8 164.6,260.8 169.0,270.4 175.0,278.4 178.6,282.7 183.8,286.2 188.2,287.7 192.6,284.5 197.0,286.3 201.3,290.6 210.0,297.6 220.6,304.6 225.0,301.7 228.4,301.0 232.8,306.4 239.8,311.0 245.0,316.9 250.3,319.5 256.0,321.0 261.3,323.0 264.8,320.5 270.0,327.5 275.3,334.5 280.5,346.8 284.9,354.7 289.3,357.3 295.4,364.3 300.7,366.9 305.0,376.0 308.5,384.5 312.9,391.5 317.3,392.9 321.7,399.4 327.8,402.9 333.0,401.0 337.4,393.3 343.6,385.0 350.6,376.2 357.6,362.5 362.8,349.4 368.1,335.4 373.3,328.4 378.6,321.4 383.8,311.8 389.0,307.4 394.3,303.9 399.6,302.1 404.8,296.9 413.6,289.9 420.6,285.5 424.0,280.0 431.0,264.6 438.0,251.5 444.2,242.3 448.6,235.0 453.9,230.6 459.0,229.4 467.9,231.9 477.5,231.9 481.9,235.0 487.0,243.8 492.4,250.8 496.8,253.4 501.0,253.4 508.0,247.5 512.0,243.5 519.0,233.5 526.0,226.0 533.0,222.7 540.0,219.5 547.0,216.9 550.5,218.6 555.8,227.4 561.0,237.0 564.5,247.5 569.8,259.8 575.0,271.0 580.3,282.5 585.5,289.5 590.8,293.0 596.0,296.5 600.4,299.5 603.9,298.8 608.3,293.9 613.6,286.9 620.6,280.8 625.8,273.8 631.0,267.6 638.0,260.6 642.4,253.6 646.8,244.0 652.0,230.0 657.3,217.8 662.6,203.8 667.0,190.0 673.0,169.5 678.3,153.8 683.6,141.5 688.9,129.3 694.0,115.3 699.4,105.6 704.6,100.4 709.9,97.8 715.0,94.3 719.5,95.0 723.9,100.4 729.0,106.5 734.4,117.0 739.6,126.6 744.9,133.6 751.9,141.5 757.0,148.5 762.4,153.8 765.9,160.8 768.0,166.0 772.4,179.8 776.8,188.5 781.0,193.8 785.5,195.2 790.8,194.0 796.0,198.0 800.4,206.0 804.8,218.3 809.0,228.8 813.5,239.3 817.0,253.3 820.5,263.8 825.8,274.0 831.0,282.0 836.3,289.5 841.5,301.0 846.8,307.6 852.0,310.3 859.9,309.4 863.4,313.8 867.8,324.3 873.0,338.3 878.3,350.5 883.6,362.8 888.8,375.0 894.0,389.0 899.3,398.5 903.7,408.3 909.0,419.0 911.6,425.0 914.2,426.8 916.8,425.9 922.0,418.5 925.6,408.3 930.8,392.5 936.0,379.4 941.4,373.3 946.6,366.3 951.0,361.0 955.4,359.3 960.6,361.0 967.6,363.6 972.9,369.8 978.0,375.0 983.4,381.0 988.6,376.8 993.9,374.0 999.0,368.0 1004.4,361.9 1007.9,360.0 1012.3,362.5 1016.3,364.0 1019.8,370.5 1024.0,376.0 1027.5,378.7 1034.5,390.9 1040.6,405.5 1045.8,426.5 1051.0,440.5 1056.3,451.0 1060.7,462.4 1065.0,469.4 1068.5,469.8 1072.0,472.6 1076.4,466.0 1080.0,460.7 1086.9,460.7 1090.4,459.0 1093.9,454.6 1099.0,445.0 1104.4,434.0 1109.8,424.5 1114.8,413.6 1120.0,406.6 1124.5,407.0 1128.0,404.0" fill="none" stroke="#ff0000" stroke-width="1" shape-rendering="crispEdges"/>
<polyline points="3.9,335.3 8.8,336.1 13.1,337.9 20.1,344.4 24.5,339.6 28.0,330.0 35.0,316.0 42.0,302.0 49.0,288.9 52.5,284.9 60.4,282.8 64.8,276.6 70.0,259.0 75.3,245.0 82.3,232.8 89.3,221.0 95.4,224.9 100.2,228.9 105.0,224.4 109.4,221.9 112.9,212.6 119.0,208.8 124.7,199.5 129.6,209.1 133.9,217.9 140.0,248.5 147.0,274.8 153.2,289.8 160.2,294.7 164.6,287.1 169.0,289.4 175.0,282.8 180.3,279.6 185.6,279.6 192.6,281.9 197.0,282.8 201.3,291.5 208.3,310.8 212.7,319.5 220.6,329.1 225.0,320.4 229.3,312.5 234.6,307.3 239.8,305.2 244.2,311.6 248.6,310.4 253.0,316.0 256.0,329.3 260.4,337.0 263.9,335.4 268.3,343.3 272.6,345.0 276.1,357.3 280.5,373.5 284.9,380.7 288.4,376.6 292.8,385.4 298.9,386.6 303.3,390.6 307.7,392.4 312.0,400.3 316.4,409.0 324.3,415.0 328.7,421.3 333.0,410.8 337.4,392.0 340.0,377.0 345.3,355.5 350.6,338.0 355.0,317.0 356.7,309.0 361.0,299.5 365.4,295.0 369.8,296.9 375.0,302.0 380.3,307.4 385.6,311.4 391.7,312.6 396.0,309.0 401.3,300.4 406.6,285.5 411.8,271.5 417.0,263.6 419.7,262.0 424.0,250.8 428.5,238.5 432.9,228.0 439.9,222.8 444.2,216.6 448.6,210.2 453.0,214.0 459.0,228.0 466.0,238.5 471.4,246.4 475.8,254.3 480.0,255.0 485.4,259.5 490.6,261.3 495.9,263.4 501.0,257.8 506.4,249.0 512.0,228.9 516.4,214.3 520.8,200.3 524.3,193.3 529.5,192.9 533.0,195.0 538.3,204.6 543.5,216.0 547.9,229.0 551.4,245.8 555.8,263.3 561.0,280.8 566.3,294.8 571.5,308.0 574.0,313.0 576.0,315.2 578.5,313.0 582.0,310.0 589.0,304.9 592.5,298.3 599.6,288.7 606.6,277.3 612.7,268.5 616.2,264.5 620.6,264.5 625.8,257.0 632.0,249.3 639.8,241.4 644.2,230.0 648.6,212.5 652.0,198.5 657.3,177.5 660.8,167.8 664.3,148.5 667.8,131.0 671.3,115.3 675.7,104.8 680.0,96.9 684.5,90.8 688.0,87.6 691.5,89.9 695.9,91.0 700.2,95.7 704.6,98.6 709.0,100.4 716.0,99.5 719.5,100.4 723.9,110.0 729.0,119.6 733.5,134.5 737.9,145.0 741.4,159.0 745.8,170.4 748.4,174.8 756.3,179.0 760.6,172.7 764.0,172.7 768.0,178.2 773.3,192.9 780.3,208.6 784.6,210.4 789.0,214.8 794.3,217.4 799.5,220.9 803.0,228.8 806.5,241.0 810.0,253.3 813.5,270.4 817.0,287.9 820.5,303.3 824.0,319.0 828.4,334.8 831.9,335.6 836.3,332.0 839.8,333.4 844.2,322.5 847.7,307.6 852.0,299.3 854.7,290.0 857.3,284.8 859.9,283.2 863.4,294.0 866.9,312.0 870.4,336.5 874.8,368.0 878.3,392.0 881.4,415.0 884.4,440.8 888.0,456.5 892.3,467.9 896.7,462.6 901.0,446.0 905.5,428.5 909.5,416.0 913.3,406.0 916.8,390.6 920.3,373.3 923.8,357.5 927.3,348.8 931.7,345.3 934.3,340.0 937.0,337.4 940.5,338.3 944.9,348.8 950.0,359.3 955.4,371.5 960.6,380.3 965.0,388.0 969.4,390.8 973.7,392.5 976.4,390.8 980.7,395.7 985.0,390.8 988.6,376.8 993.0,361.0 997.4,350.5 1001.8,340.0 1005.3,331.3 1008.8,325.7 1012.3,335.5 1015.8,348.0 1018.4,364.0 1021.0,381.0 1024.0,395.7 1027.5,409.0 1031.0,430.0 1034.5,451.0 1038.8,471.2 1044.0,493.6 1048.0,486.0 1052.0,488.7 1056.3,487.0 1060.7,481.7 1066.0,469.4 1071.2,455.5 1075.5,445.0 1080.0,431.9 1082.5,431.3 1086.0,436.2 1088.6,440.0 1095.6,440.0 1100.9,436.0 1105.5,429.5 1108.7,422.2 1111.5,412.0 1114.0,394.4 1116.6,382.2 1121.0,374.3 1124.5,373.0 1128.0,370.8" fill="none" stroke="#0000cd" stroke-width="1" shape-rendering="crispEdges"/>
<g shape-rendering="crispEdges">
<rect x="4" y="151" width="1417" height="3" fill="#ff0000"/>
<rect x="1421" y="146" width="41" height="11" fill="#ff0000"/>
<rect x="4" y="246" width="1417" height="3" fill="#ff0000"/>
<rect x="1421" y="241" width="41" height="11" fill="#ff0000"/>
<rect x="4" y="315" width="1417" height="3" fill="#00ff00"/>
<rect x="1421" y="310" width="41" height="11" fill="#00ff00"/>
<rect x="4" y="427" width="1417" height="3" fill="#0000ff"/>
<rect x="1421" y="422" width="41" height="11" fill="#0000ff"/>
<rect x="4" y="514" width="1417" height="3" fill="#0000ff"/>
<rect x="1421" y="509" width="41" height="11" fill="#0000ff"/>
<rect x="1421" y="391" width="41" height="11" fill="#000"/>
<rect x="4" y="313" width="6" height="7" fill="#00ff00"/><rect x="6" y="316" width="1" height="1" fill="#fff"/>
<rect x="1413" y="313" width="7" height="7" fill="#00ff00"/><rect x="1416" y="316" width="1" height="1" fill="#fff"/>
<rect x="4" y="425" width="6" height="7" fill="#0000ff"/><rect x="6" y="428" width="1" height="1" fill="#fff"/>
<rect x="1413" y="425" width="7" height="7" fill="#0000ff"/><rect x="1416" y="428" width="1" height="1" fill="#fff"/>
<rect x="1420" y="33" width="2" height="1" fill="#000"/>
<rect x="1420" y="66" width="2" height="1" fill="#000"/>
<rect x="1420" y="99" width="2" height="1" fill="#000"/>
<rect x="1420" y="132" width="2" height="1" fill="#000"/>
<rect x="1420" y="165" width="2" height="1" fill="#000"/>
<rect x="1420" y="198" width="2" height="1" fill="#000"/>
<rect x="1420" y="231" width="2" height="1" fill="#000"/>
<rect x="1420" y="264" width="2" height="1" fill="#000"/>
<rect x="1420" y="297" width="2" height="1" fill="#000"/>
<rect x="1420" y="330" width="2" height="1" fill="#000"/>
<rect x="1420" y="363" width="2" height="1" fill="#000"/>
<rect x="1420" y="462" width="2" height="1" fill="#000"/>
<rect x="1420" y="495" width="2" height="1" fill="#000"/>
<rect x="1420" y="528" width="2" height="1" fill="#000"/>
<rect x="1420" y="561" width="2" height="1" fill="#000"/>
<rect x="1420" y="613" width="2" height="1" fill="#000"/>
<rect x="1420" y="711" width="2" height="1" fill="#000"/>
<rect x="1420" y="762" width="2" height="1" fill="#000"/>
<rect x="1420" y="568" width="1" height="1" fill="#000"/>
<rect x="1420" y="668" width="1" height="1" fill="#000"/>
<rect x="1420" y="673" width="1" height="1" fill="#000"/>
<rect x="1420" y="800" width="1" height="1" fill="#000"/>
<rect x="4" y="802" width="1" height="3" fill="#000"/>
<rect x="68" y="802" width="1" height="3" fill="#000"/>
<rect x="132" y="802" width="1" height="3" fill="#000"/>
<rect x="196" y="802" width="1" height="3" fill="#000"/>
<rect x="260" y="802" width="1" height="3" fill="#000"/>
<rect x="324" y="802" width="1" height="3" fill="#000"/>
<rect x="388" y="802" width="1" height="3" fill="#000"/>
<rect x="452" y="802" width="1" height="3" fill="#000"/>
<rect x="516" y="802" width="1" height="3" fill="#000"/>
<rect x="580" y="802" width="1" height="3" fill="#000"/>
<rect x="644" y="802" width="1" height="3" fill="#000"/>
<rect x="708" y="802" width="1" height="3" fill="#000"/>
<rect x="772" y="802" width="1" height="3" fill="#000"/>
<rect x="836" y="802" width="1" height="3" fill="#000"/>
<rect x="900" y="802" width="1" height="3" fill="#000"/>
<rect x="964" y="802" width="1" height="3" fill="#000"/>
<rect x="1028" y="802" width="1" height="3" fill="#000"/>
<rect x="1092" y="802" width="1" height="3" fill="#000"/>
</g>
<text x="1425" y="37" textLength="33.0" lengthAdjust="spacingAndGlyphs">1.02580</text>
<text x="1425" y="70" textLength="33.0" lengthAdjust="spacingAndGlyphs">1.02200</text>
<text x="1425" y="103" textLength="33.0" lengthAdjust="spacingAndGlyphs">1.01820</text>
<text x="1425" y="136" textLength="33.0" lengthAdjust="spacingAndGlyphs">1.01440</text>
<text x="1425" y="169" textLength="33.0" lengthAdjust="spacingAndGlyphs">1.01050</text>
<text x="1425" y="202" textLength="33.0" lengthAdjust="spacingAndGlyphs">1.00670</text>
<text x="1425" y="235" textLength="33.0" lengthAdjust="spacingAndGlyphs">1.00290</text>
<text x="1425" y="268" textLength="33.0" lengthAdjust="spacingAndGlyphs">0.99910</text>
<text x="1425" y="301" textLength="33.0" lengthAdjust="spacingAndGlyphs">0.99530</text>
<text x="1425" y="334" textLength="33.0" lengthAdjust="spacingAndGlyphs">0.99140</text>
<text x="1425" y="367" textLength="33.0" lengthAdjust="spacingAndGlyphs">0.98760</text>
<text x="1425" y="466" textLength="33.0" lengthAdjust="spacingAndGlyphs">0.97610</text>
<text x="1425" y="499" textLength="33.0" lengthAdjust="spacingAndGlyphs">0.97230</text>
<text x="1425" y="532" textLength="33.0" lengthAdjust="spacingAndGlyphs">0.96850</text>
<text x="1425" y="565" textLength="33.0" lengthAdjust="spacingAndGlyphs">0.96470</text>
<text x="1425" y="155" textLength="33.0" lengthAdjust="spacingAndGlyphs" style="fill:#fff;stroke:#fff">1.01205</text>
<text x="1425" y="250" textLength="33.0" lengthAdjust="spacingAndGlyphs" style="fill:#fff;stroke:#fff">1.00106</text>
<text x="1425" y="319" textLength="33.0" lengthAdjust="spacingAndGlyphs" style="fill:#fff;stroke:#fff">0.99307</text>
<text x="1425" y="431" textLength="33.0" lengthAdjust="spacingAndGlyphs" style="fill:#fff;stroke:#fff">0.98004</text>
<text x="1425" y="518" textLength="33.0" lengthAdjust="spacingAndGlyphs" style="fill:#fff;stroke:#fff">0.97001</text>
<text x="1425" y="400" textLength="33.0" lengthAdjust="spacingAndGlyphs" style="fill:#fff;stroke:#fff">0.98380</text>
<text x="1423" y="577" textLength="38.0" lengthAdjust="spacingAndGlyphs">0.006286</text>
<text x="1423" y="617" textLength="18.0" lengthAdjust="spacingAndGlyphs">0.00</text>
<text x="1422.5" y="666" textLength="36.5" lengthAdjust="spacingAndGlyphs">-0.00762</text>
<text x="1423" y="682" textLength="15.0" lengthAdjust="spacingAndGlyphs">100</text>
<text x="1423" y="715" textLength="10.0" lengthAdjust="spacingAndGlyphs">70</text>
<text x="1423" y="766" textLength="10.0" lengthAdjust="spacingAndGlyphs">30</text>
<text x="1423" y="798" textLength="5.0" lengthAdjust="spacingAndGlyphs">0</text>
<text x="3" y="814" textLength="50.1" lengthAdjust="spacingAndGlyphs">11 Oct 2018</text>
<text x="67" y="814" textLength="50.8" lengthAdjust="spacingAndGlyphs">30 Oct 2018</text>
<text x="131" y="814" textLength="52.9" lengthAdjust="spacingAndGlyphs">18 Nov 2018</text>
<text x="195" y="814" textLength="47.7" lengthAdjust="spacingAndGlyphs">6 Dec 2018</text>
<text x="259" y="814" textLength="52.9" lengthAdjust="spacingAndGlyphs">25 Dec 2018</text>
<text x="323" y="814" textLength="51.4" lengthAdjust="spacingAndGlyphs">13 Jan 2019</text>
<text x="387" y="814" textLength="51.4" lengthAdjust="spacingAndGlyphs">31 Jan 2019</text>
<text x="451" y="814" textLength="52.4" lengthAdjust="spacingAndGlyphs">19 Feb 2019</text>
<text x="515" y="814" textLength="52.4" lengthAdjust="spacingAndGlyphs">10 Mar 2019</text>
<text x="579" y="814" textLength="52.4" lengthAdjust="spacingAndGlyphs">28 Mar 2019</text>
<text x="643" y="814" textLength="50.3" lengthAdjust="spacingAndGlyphs">16 Apr 2019</text>
<text x="707" y="814" textLength="48.8" lengthAdjust="spacingAndGlyphs">6 May 2019</text>
<text x="771" y="814" textLength="53.9" lengthAdjust="spacingAndGlyphs">24 May 2019</text>
<text x="835" y="814" textLength="51.4" lengthAdjust="spacingAndGlyphs">12 Jun 2019</text>
<text x="899" y="814" textLength="43.1" lengthAdjust="spacingAndGlyphs">1 Jul 2019</text>
<text x="963" y="814" textLength="48.2" lengthAdjust="spacingAndGlyphs">19 Jul 2019</text>
<text x="1027" y="814" textLength="47.2" lengthAdjust="spacingAndGlyphs">7 Aug 2019</text>
<text x="1091" y="814" textLength="52.4" lengthAdjust="spacingAndGlyphs">26 Aug 2019</text>
<path d="M7 32h8l-4 4.5z" fill="#000"/>
<text x="19" y="37" textLength="67.5" lengthAdjust="spacingAndGlyphs">USDCHF-,Daily</text>
<text x="93.2" y="37" textLength="141.0" lengthAdjust="spacingAndGlyphs">0.98081 0.98385 0.98042 0.98380</text>
<text x="8" y="579" textLength="67.7" lengthAdjust="spacingAndGlyphs">MACD(12,26,9)</text>
<text x="77.9274609375" y="579" textLength="79.0" lengthAdjust="spacingAndGlyphs">0.001367 0.000714</text>
<text x="8" y="684" textLength="33.6" lengthAdjust="spacingAndGlyphs">RSI(14)</text>
<text x="43.790273437500005" y="684" textLength="33.0" lengthAdjust="spacingAndGlyphs">51.6381</text>
<path d="M1130 26h9l-4.5 5z" fill="#c0c0c0"/>
<g shape-rendering="crispEdges">
<rect x="4" y="577" width="1" height="37" fill="#c0c0c0"/>
<rect x="8" y="579" width="1" height="35" fill="#c0c0c0"/>
<rect x="12" y="580" width="1" height="34" fill="#c0c0c0"/>
<rect x="16" y="580" width="1" height="34" fill="#c0c0c0"/>
<rect x="20" y="580" width="1" height="34" fill="#c0c0c0"/>
<rect x="24" y="580" width="1" height="34" fill="#c0c0c0"/>
<rect x="28" y="580" width="1" height="34" fill="#c0c0c0"/>
<rect x="32" y="580" width="1" height="34" fill="#c0c0c0"/>
<rect x="36" y="580" width="1" height="34" fill="#c0c0c0"/>
<rect x="40" y="580" width="1" height="34" fill="#c0c0c0"/>
<rect x="44" y="580" width="1" height="34" fill="#c0c0c0"/>
<rect x="48" y="580" width="1" height="34" fill="#c0c0c0"/>
<rect x="52" y="581" width="1" height="33" fill="#c0c0c0"/>
<rect x="56" y="581" width="1" height="33" fill="#c0c0c0"/>
<rect x="60" y="581" width="1" height="33" fill="#c0c0c0"/>
<rect x="64" y="581" width="1" height="33" fill="#c0c0c0"/>
<rect x="68" y="581" width="1" height="33" fill="#c0c0c0"/>
<rect x="72" y="581" width="1" height="33" fill="#c0c0c0"/>
<rect x="76" y="582" width="1" height="32" fill="#c0c0c0"/>
<rect x="80" y="582" width="1" height="32" fill="#c0c0c0"/>
<rect x="84" y="582" width="1" height="32" fill="#c0c0c0"/>
<rect x="88" y="582" width="1" height="32" fill="#c0c0c0"/>
<rect x="92" y="582" width="1" height="32" fill="#c0c0c0"/>
<rect x="96" y="582" width="1" height="32" fill="#c0c0c0"/>
<rect x="100" y="582" width="1" height="32" fill="#c0c0c0"/>
<rect x="104" y="582" width="1" height="32" fill="#c0c0c0"/>
<rect x="108" y="582" width="1" height="32" fill="#c0c0c0"/>
<rect x="112" y="582" width="1" height="32" fill="#c0c0c0"/>
<rect x="116" y="583" width="1" height="31" fill="#c0c0c0"/>
<rect x="120" y="583" width="1" height="31" fill="#c0c0c0"/>
<rect x="124" y="585" width="1" height="29" fill="#c0c0c0"/>
<rect x="128" y="590" width="1" height="24" fill="#c0c0c0"/>
<rect x="132" y="595" width="1" height="19" fill="#c0c0c0"/>
<rect x="136" y="602" width="1" height="12" fill="#c0c0c0"/>
<rect x="140" y="607" width="1" height="7" fill="#c0c0c0"/>
<rect x="144" y="611" width="1" height="3" fill="#c0c0c0"/>
<rect x="148" y="612" width="1" height="2" fill="#c0c0c0"/>
<rect x="152" y="613" width="1" height="1" fill="#c0c0c0"/>
<rect x="156" y="613" width="1" height="1" fill="#c0c0c0"/>
<rect x="160" y="613" width="1" height="1" fill="#c0c0c0"/>
<rect x="164" y="613" width="1" height="1" fill="#c0c0c0"/>
<rect x="168" y="613" width="1" height="6" fill="#c0c0c0"/>
<rect x="172" y="613" width="1" height="7" fill="#c0c0c0"/>
<rect x="176" y="613" width="1" height="5" fill="#c0c0c0"/>
<rect x="180" y="613" width="1" height="5" fill="#c0c0c0"/>
<rect x="184" y="613" width="1" height="5" fill="#c0c0c0"/>
<rect x="188" y="613" width="1" height="5" fill="#c0c0c0"/>
<rect x="192" y="613" width="1" height="6" fill="#c0c0c0"/>
<rect x="196" y="613" width="1" height="8" fill="#c0c0c0"/>
<rect x="200" y="613" width="1" height="10" fill="#c0c0c0"/>
<rect x="204" y="613" width="1" height="14" fill="#c0c0c0"/>
<rect x="208" y="613" width="1" height="16" fill="#c0c0c0"/>
<rect x="212" y="613" width="1" height="15" fill="#c0c0c0"/>
<rect x="216" y="613" width="1" height="14" fill="#c0c0c0"/>
<rect x="220" y="613" width="1" height="12" fill="#c0c0c0"/>
<rect x="224" y="613" width="1" height="10" fill="#c0c0c0"/>
<rect x="228" y="613" width="1" height="8" fill="#c0c0c0"/>
<rect x="232" y="613" width="1" height="10" fill="#c0c0c0"/>
<rect x="236" y="613" width="1" height="10" fill="#c0c0c0"/>
<rect x="240" y="613" width="1" height="9" fill="#c0c0c0"/>
<rect x="244" y="613" width="1" height="10" fill="#c0c0c0"/>
<rect x="248" y="613" width="1" height="10" fill="#c0c0c0"/>
<rect x="252" y="613" width="1" height="11" fill="#c0c0c0"/>
<rect x="256" y="613" width="1" height="14" fill="#c0c0c0"/>
<rect x="260" y="613" width="1" height="16" fill="#c0c0c0"/>
<rect x="264" y="613" width="1" height="14" fill="#c0c0c0"/>
<rect x="268" y="613" width="1" height="14" fill="#c0c0c0"/>
<rect x="272" y="613" width="1" height="16" fill="#c0c0c0"/>
<rect x="276" y="613" width="1" height="20" fill="#c0c0c0"/>
<rect x="280" y="613" width="1" height="23" fill="#c0c0c0"/>
<rect x="284" y="613" width="1" height="25" fill="#c0c0c0"/>
<rect x="288" y="613" width="1" height="22" fill="#c0c0c0"/>
<rect x="292" y="613" width="1" height="18" fill="#c0c0c0"/>
<rect x="296" y="613" width="1" height="19" fill="#c0c0c0"/>
<rect x="300" y="613" width="1" height="20" fill="#c0c0c0"/>
<rect x="304" y="613" width="1" height="21" fill="#c0c0c0"/>
<rect x="308" y="613" width="1" height="23" fill="#c0c0c0"/>
<rect x="312" y="613" width="1" height="29" fill="#c0c0c0"/>
<rect x="316" y="613" width="1" height="26" fill="#c0c0c0"/>
<rect x="320" y="613" width="1" height="24" fill="#c0c0c0"/>
<rect x="324" y="613" width="1" height="24" fill="#c0c0c0"/>
<rect x="328" y="613" width="1" height="22" fill="#c0c0c0"/>
<rect x="332" y="613" width="1" height="18" fill="#c0c0c0"/>
<rect x="336" y="613" width="1" height="12" fill="#c0c0c0"/>
<rect x="340" y="613" width="1" height="7" fill="#c0c0c0"/>
<rect x="344" y="613" width="1" height="1" fill="#c0c0c0"/>
<rect x="348" y="610" width="1" height="4" fill="#c0c0c0"/>
<rect x="352" y="605" width="1" height="9" fill="#c0c0c0"/>
<rect x="356" y="602" width="1" height="12" fill="#c0c0c0"/>
<rect x="360" y="601" width="1" height="13" fill="#c0c0c0"/>
<rect x="364" y="599" width="1" height="15" fill="#c0c0c0"/>
<rect x="368" y="600" width="1" height="14" fill="#c0c0c0"/>
<rect x="372" y="601" width="1" height="13" fill="#c0c0c0"/>
<rect x="376" y="602" width="1" height="12" fill="#c0c0c0"/>
<rect x="380" y="602" width="1" height="12" fill="#c0c0c0"/>
<rect x="384" y="602" width="1" height="12" fill="#c0c0c0"/>
<rect x="388" y="602" width="1" height="12" fill="#c0c0c0"/>
<rect x="392" y="602" width="1" height="12" fill="#c0c0c0"/>
<rect x="396" y="602" width="1" height="12" fill="#c0c0c0"/>
<rect x="400" y="601" width="1" height="13" fill="#c0c0c0"/>
<rect x="404" y="598" width="1" height="16" fill="#c0c0c0"/>
<rect x="408" y="595" width="1" height="19" fill="#c0c0c0"/>
<rect x="412" y="593" width="1" height="21" fill="#c0c0c0"/>
<rect x="416" y="593" width="1" height="21" fill="#c0c0c0"/>
<rect x="420" y="594" width="1" height="20" fill="#c0c0c0"/>
<rect x="424" y="592" width="1" height="22" fill="#c0c0c0"/>
<rect x="428" y="589" width="1" height="25" fill="#c0c0c0"/>
<rect x="432" y="586" width="1" height="28" fill="#c0c0c0"/>
<rect x="436" y="586" width="1" height="28" fill="#c0c0c0"/>
<rect x="440" y="586" width="1" height="28" fill="#c0c0c0"/>
<rect x="444" y="587" width="1" height="27" fill="#c0c0c0"/>
<rect x="448" y="588" width="1" height="26" fill="#c0c0c0"/>
<rect x="452" y="591" width="1" height="23" fill="#c0c0c0"/>
<rect x="456" y="594" width="1" height="20" fill="#c0c0c0"/>
<rect x="460" y="596" width="1" height="18" fill="#c0c0c0"/>
<rect x="464" y="599" width="1" height="15" fill="#c0c0c0"/>
<rect x="468" y="601" width="1" height="13" fill="#c0c0c0"/>
<rect x="472" y="603" width="1" height="11" fill="#c0c0c0"/>
<rect x="476" y="604" width="1" height="10" fill="#c0c0c0"/>
<rect x="480" y="605" width="1" height="9" fill="#c0c0c0"/>
<rect x="484" y="608" width="1" height="6" fill="#c0c0c0"/>
<rect x="488" y="609" width="1" height="5" fill="#c0c0c0"/>
<rect x="492" y="611" width="1" height="3" fill="#c0c0c0"/>
<rect x="496" y="611" width="1" height="3" fill="#c0c0c0"/>
<rect x="500" y="609" width="1" height="5" fill="#c0c0c0"/>
<rect x="504" y="606" width="1" height="8" fill="#c0c0c0"/>
<rect x="508" y="602" width="1" height="12" fill="#c0c0c0"/>
<rect x="512" y="600" width="1" height="14" fill="#c0c0c0"/>
<rect x="516" y="599" width="1" height="15" fill="#c0c0c0"/>
<rect x="520" y="596" width="1" height="18" fill="#c0c0c0"/>
<rect x="524" y="596" width="1" height="18" fill="#c0c0c0"/>
<rect x="528" y="599" width="1" height="15" fill="#c0c0c0"/>
<rect x="532" y="600" width="1" height="14" fill="#c0c0c0"/>
<rect x="536" y="603" width="1" height="11" fill="#c0c0c0"/>
<rect x="540" y="605" width="1" height="9" fill="#c0c0c0"/>
<rect x="544" y="607" width="1" height="7" fill="#c0c0c0"/>
<rect x="548" y="611" width="1" height="3" fill="#c0c0c0"/>
<rect x="552" y="613" width="1" height="5" fill="#c0c0c0"/>
<rect x="556" y="613" width="1" height="10" fill="#c0c0c0"/>
<rect x="560" y="613" width="1" height="12" fill="#c0c0c0"/>
<rect x="564" y="613" width="1" height="14" fill="#c0c0c0"/>
<rect x="568" y="613" width="1" height="16" fill="#c0c0c0"/>
<rect x="572" y="613" width="1" height="18" fill="#c0c0c0"/>
<rect x="576" y="613" width="1" height="18" fill="#c0c0c0"/>
<rect x="580" y="613" width="1" height="16" fill="#c0c0c0"/>
<rect x="584" y="613" width="1" height="15" fill="#c0c0c0"/>
<rect x="588" y="613" width="1" height="14" fill="#c0c0c0"/>
<rect x="592" y="613" width="1" height="12" fill="#c0c0c0"/>
<rect x="596" y="613" width="1" height="10" fill="#c0c0c0"/>
<rect x="600" y="613" width="1" height="10" fill="#c0c0c0"/>
<rect x="604" y="613" width="1" height="6" fill="#c0c0c0"/>
<rect x="608" y="613" width="1" height="5" fill="#c0c0c0"/>
<rect x="612" y="613" width="1" height="4" fill="#c0c0c0"/>
<rect x="616" y="613" width="1" height="3" fill="#c0c0c0"/>
<rect x="620" y="613" width="1" height="2" fill="#c0c0c0"/>
<rect x="624" y="613" width="1" height="1" fill="#c0c0c0"/>
<rect x="628" y="612" width="1" height="2" fill="#c0c0c0"/>
<rect x="632" y="609" width="1" height="5" fill="#c0c0c0"/>
<rect x="636" y="608" width="1" height="6" fill="#c0c0c0"/>
<rect x="640" y="607" width="1" height="7" fill="#c0c0c0"/>
<rect x="644" y="603" width="1" height="11" fill="#c0c0c0"/>
<rect x="648" y="599" width="1" height="15" fill="#c0c0c0"/>
<rect x="652" y="593" width="1" height="21" fill="#c0c0c0"/>
<rect x="656" y="590" width="1" height="24" fill="#c0c0c0"/>
<rect x="660" y="586" width="1" height="28" fill="#c0c0c0"/>
<rect x="664" y="582" width="1" height="32" fill="#c0c0c0"/>
<rect x="668" y="578" width="1" height="36" fill="#c0c0c0"/>
<rect x="672" y="575" width="1" height="39" fill="#c0c0c0"/>
<rect x="676" y="574" width="1" height="40" fill="#c0c0c0"/>
<rect x="680" y="574" width="1" height="40" fill="#c0c0c0"/>
<rect x="684" y="574" width="1" height="40" fill="#c0c0c0"/>
<rect x="688" y="575" width="1" height="39" fill="#c0c0c0"/>
<rect x="692" y="576" width="1" height="38" fill="#c0c0c0"/>
<rect x="696" y="578" width="1" height="36" fill="#c0c0c0"/>
<rect x="700" y="580" width="1" height="34" fill="#c0c0c0"/>
<rect x="704" y="583" width="1" height="31" fill="#c0c0c0"/>
<rect x="708" y="585" width="1" height="29" fill="#c0c0c0"/>
<rect x="712" y="585" width="1" height="29" fill="#c0c0c0"/>
<rect x="716" y="586" width="1" height="28" fill="#c0c0c0"/>
<rect x="720" y="589" width="1" height="25" fill="#c0c0c0"/>
<rect x="724" y="594" width="1" height="20" fill="#c0c0c0"/>
<rect x="728" y="599" width="1" height="15" fill="#c0c0c0"/>
<rect x="732" y="606" width="1" height="8" fill="#c0c0c0"/>
<rect x="736" y="610" width="1" height="4" fill="#c0c0c0"/>
<rect x="740" y="612" width="1" height="2" fill="#c0c0c0"/>
<rect x="744" y="613" width="1" height="1" fill="#c0c0c0"/>
<rect x="748" y="613" width="1" height="2" fill="#c0c0c0"/>
<rect x="752" y="613" width="1" height="3" fill="#c0c0c0"/>
<rect x="756" y="613" width="1" height="4" fill="#c0c0c0"/>
<rect x="760" y="613" width="1" height="4" fill="#c0c0c0"/>
<rect x="764" y="613" width="1" height="5" fill="#c0c0c0"/>
<rect x="768" y="613" width="1" height="10" fill="#c0c0c0"/>
<rect x="772" y="613" width="1" height="14" fill="#c0c0c0"/>
<rect x="776" y="613" width="1" height="17" fill="#c0c0c0"/>
<rect x="780" y="613" width="1" height="16" fill="#c0c0c0"/>
<rect x="784" y="613" width="1" height="16" fill="#c0c0c0"/>
<rect x="788" y="613" width="1" height="14" fill="#c0c0c0"/>
<rect x="792" y="613" width="1" height="13" fill="#c0c0c0"/>
<rect x="796" y="613" width="1" height="15" fill="#c0c0c0"/>
<rect x="800" y="613" width="1" height="19" fill="#c0c0c0"/>
<rect x="804" y="613" width="1" height="25" fill="#c0c0c0"/>
<rect x="808" y="613" width="1" height="28" fill="#c0c0c0"/>
<rect x="812" y="613" width="1" height="30" fill="#c0c0c0"/>
<rect x="816" y="613" width="1" height="34" fill="#c0c0c0"/>
<rect x="820" y="613" width="1" height="39" fill="#c0c0c0"/>
<rect x="824" y="613" width="1" height="40" fill="#c0c0c0"/>
<rect x="828" y="613" width="1" height="41" fill="#c0c0c0"/>
<rect x="832" y="613" width="1" height="40" fill="#c0c0c0"/>
<rect x="836" y="613" width="1" height="37" fill="#c0c0c0"/>
<rect x="840" y="613" width="1" height="35" fill="#c0c0c0"/>
<rect x="844" y="613" width="1" height="30" fill="#c0c0c0"/>
<rect x="848" y="613" width="1" height="25" fill="#c0c0c0"/>
<rect x="852" y="613" width="1" height="22" fill="#c0c0c0"/>
<rect x="856" y="613" width="1" height="18" fill="#c0c0c0"/>
<rect x="860" y="613" width="1" height="19" fill="#c0c0c0"/>
<rect x="864" y="613" width="1" height="26" fill="#c0c0c0"/>
<rect x="868" y="613" width="1" height="34" fill="#c0c0c0"/>
<rect x="872" y="613" width="1" height="41" fill="#c0c0c0"/>
<rect x="876" y="613" width="1" height="48" fill="#c0c0c0"/>
<rect x="880" y="613" width="1" height="51" fill="#c0c0c0"/>
<rect x="884" y="613" width="1" height="51" fill="#c0c0c0"/>
<rect x="888" y="613" width="1" height="52" fill="#c0c0c0"/>
<rect x="892" y="613" width="1" height="52" fill="#c0c0c0"/>
<rect x="896" y="613" width="1" height="49" fill="#c0c0c0"/>
<rect x="900" y="613" width="1" height="42" fill="#c0c0c0"/>
<rect x="904" y="613" width="1" height="37" fill="#c0c0c0"/>
<rect x="908" y="613" width="1" height="33" fill="#c0c0c0"/>
<rect x="912" y="613" width="1" height="29" fill="#c0c0c0"/>
<rect x="916" y="613" width="1" height="22" fill="#c0c0c0"/>
<rect x="920" y="613" width="1" height="17" fill="#c0c0c0"/>
<rect x="924" y="613" width="1" height="11" fill="#c0c0c0"/>
<rect x="928" y="613" width="1" height="6" fill="#c0c0c0"/>
<rect x="932" y="613" width="1" height="6" fill="#c0c0c0"/>
<rect x="936" y="613" width="1" height="4" fill="#c0c0c0"/>
<rect x="940" y="613" width="1" height="6" fill="#c0c0c0"/>
<rect x="944" y="613" width="1" height="8" fill="#c0c0c0"/>
<rect x="948" y="613" width="1" height="8" fill="#c0c0c0"/>
<rect x="952" y="613" width="1" height="9" fill="#c0c0c0"/>
<rect x="956" y="613" width="1" height="10" fill="#c0c0c0"/>
<rect x="960" y="613" width="1" height="10" fill="#c0c0c0"/>
<rect x="964" y="613" width="1" height="11" fill="#c0c0c0"/>
<rect x="968" y="613" width="1" height="12" fill="#c0c0c0"/>
<rect x="972" y="613" width="1" height="12" fill="#c0c0c0"/>
<rect x="976" y="613" width="1" height="11" fill="#c0c0c0"/>
<rect x="980" y="613" width="1" height="10" fill="#c0c0c0"/>
<rect x="984" y="613" width="1" height="6" fill="#c0c0c0"/>
<rect x="988" y="613" width="1" height="1" fill="#c0c0c0"/>
<rect x="992" y="611" width="1" height="3" fill="#c0c0c0"/>
<rect x="996" y="610" width="1" height="4" fill="#c0c0c0"/>
<rect x="1000" y="608" width="1" height="6" fill="#c0c0c0"/>
<rect x="1004" y="606" width="1" height="8" fill="#c0c0c0"/>
<rect x="1008" y="606" width="1" height="8" fill="#c0c0c0"/>
<rect x="1012" y="611" width="1" height="3" fill="#c0c0c0"/>
<rect x="1016" y="613" width="1" height="2" fill="#c0c0c0"/>
<rect x="1020" y="613" width="1" height="12" fill="#c0c0c0"/>
<rect x="1024" y="613" width="1" height="16" fill="#c0c0c0"/>
<rect x="1028" y="613" width="1" height="20" fill="#c0c0c0"/>
<rect x="1032" y="613" width="1" height="24" fill="#c0c0c0"/>
<rect x="1036" y="613" width="1" height="27" fill="#c0c0c0"/>
<rect x="1040" y="613" width="1" height="30" fill="#c0c0c0"/>
<rect x="1044" y="613" width="1" height="33" fill="#c0c0c0"/>
<rect x="1048" y="613" width="1" height="31" fill="#c0c0c0"/>
<rect x="1052" y="613" width="1" height="31" fill="#c0c0c0"/>
<rect x="1056" y="613" width="1" height="29" fill="#c0c0c0"/>
<rect x="1060" y="613" width="1" height="26" fill="#c0c0c0"/>
<rect x="1064" y="613" width="1" height="22" fill="#c0c0c0"/>
<rect x="1068" y="613" width="1" height="18" fill="#c0c0c0"/>
<rect x="1072" y="613" width="1" height="16" fill="#c0c0c0"/>
<rect x="1076" y="613" width="1" height="12" fill="#c0c0c0"/>
<rect x="1080" y="613" width="1" height="9" fill="#c0c0c0"/>
<rect x="1084" y="613" width="1" height="11" fill="#c0c0c0"/>
<rect x="1088" y="613" width="1" height="14" fill="#c0c0c0"/>
<rect x="1092" y="613" width="1" height="11" fill="#c0c0c0"/>
<rect x="1096" y="613" width="1" height="9" fill="#c0c0c0"/>
<rect x="1100" y="613" width="1" height="7" fill="#c0c0c0"/>
<rect x="1104" y="613" width="1" height="1" fill="#c0c0c0"/>
<rect x="1108" y="609" width="1" height="5" fill="#c0c0c0"/>
<rect x="1112" y="605" width="1" height="9" fill="#c0c0c0"/>
<rect x="1116" y="601" width="1" height="13" fill="#c0c0c0"/>
<rect x="1120" y="600" width="1" height="14" fill="#c0c0c0"/>
<rect x="1124" y="603" width="1" height="11" fill="#c0c0c0"/>
<rect x="1128" y="604" width="1" height="10" fill="#c0c0c0"/>
</g>
<polyline points="4.0,583.8 9.0,577.9 20.0,577.0 60.0,577.0 111.0,579.5 119.0,580.9 131.0,582.8 139.0,587.8 149.0,596.7 159.0,605.7 169.0,612.6 173.0,614.6 179.0,616.0 190.0,616.2 198.0,617.6 208.0,620.5 218.0,623.1 228.0,624.1 238.0,624.1 248.0,622.9 258.0,622.5 268.0,623.9 278.0,627.1 288.0,629.9 292.0,631.4 300.0,632.4 307.9,633.8 311.8,635.4 323.7,635.4 335.6,634.4 341.6,631.8 347.5,627.5 353.5,622.5 359.4,616.0 365.4,610.6 371.3,605.7 377.3,602.7 383.2,601.3 393.0,600.7 401.0,600.7 409.0,600.0 417.0,598.0 424.9,595.7 430.8,592.8 436.8,590.2 442.7,588.8 448.7,588.4 462.6,588.4 467.5,590.2 473.5,593.8 480.4,597.0 486.4,599.7 492.3,602.7 497.3,605.3 504.2,607.2 509.2,607.2 515.0,605.3 521.0,603.7 527.0,601.3 533.0,600.7 538.0,599.3 545.9,600.0 551.8,602.7 557.8,607.2 563.7,611.6 569.7,617.2 575.6,621.9 580.0,623.9 586.0,627.0 592.9,628.5 599.8,627.5 605.8,625.5 611.7,623.0 617.7,621.0 623.6,618.6 629.6,616.0 635.5,613.6 641.5,611.6 647.4,608.6 653.4,604.7 659.3,601.3 665.3,595.7 671.3,590.2 677.2,585.4 683.0,580.9 689.0,577.5 695.0,575.9 702.0,575.5 708.0,577.5 714.9,578.3 719.9,580.3 725.8,583.8 731.8,588.2 737.7,593.4 743.7,598.7 749.6,603.3 755.6,607.2 761.5,611.6 767.5,614.6 773.4,618.0 779.4,621.0 785.3,622.5 791.3,623.9 797.2,626.5 803.2,628.5 809.0,631.4 815.0,633.4 821.0,637.8 827.0,642.4 832.9,645.3 838.9,647.9 844.8,648.7 850.8,647.3 856.7,644.3 862.7,641.2 868.9,639.4 875.9,641.4 881.8,645.3 887.8,650.3 893.7,655.6 899.7,658.8 904.6,659.6 911.6,656.8 917.5,652.3 923.5,645.7 929.4,638.4 935.4,631.4 941.3,627.0 947.3,622.5 953.2,619.9 961.2,619.5 969.0,620.9 979.0,622.5 987.0,621.9 992.9,619.9 998.9,617.6 1004.8,615.2 1010.8,612.0 1016.7,610.6 1022.7,611.6 1028.6,616.0 1034.6,620.5 1040.5,626.5 1046.5,632.4 1052.4,637.8 1058.4,639.8 1064.3,640.4 1070.3,639.0 1076.2,635.8 1082.2,633.4 1088.0,630.5 1094.0,627.5 1100.0,624.5 1106.0,621.9 1112.0,618.0 1117.9,614.6 1124.8,610.6" fill="none" stroke="#ff0000" stroke-width="1" stroke-dasharray="3,3" shape-rendering="crispEdges"/>
<g shape-rendering="crispEdges">
<path d="M4 711.5H1419M4 762.5H1419" stroke="#c0c0c0" stroke-width="1" stroke-dasharray="3,3" fill="none"/>
</g>
<polyline points="4.0,718.2 8.0,717.6 12.0,717.6 16.0,727.5 20.0,721.2 24.0,716.0 28.0,714.0 32.0,712.1 36.0,713.6 40.0,715.2 44.0,719.6 48.0,715.6 52.0,711.7 56.0,719.2 60.0,718.2 64.0,712.7 68.0,708.1 72.0,704.3 76.0,721.6 80.0,717.6 84.0,723.6 88.0,720.2 92.0,727.5 96.0,726.1 100.0,720.6 104.0,720.6 108.0,720.6 112.0,714.6 116.0,724.2 120.0,724.2 124.0,723.2 128.0,738.0 132.0,739.4 136.0,749.3 140.0,746.4 144.0,746.4 148.0,746.4 152.0,740.4 156.0,740.4 160.0,738.4 164.0,737.4 168.0,748.4 172.0,740.4 176.0,733.5 180.0,735.9 184.0,737.4 188.0,738.0 192.0,739.4 196.0,747.4 200.0,754.3 204.0,753.7 208.0,753.3 212.0,743.4 216.0,744.4 220.0,741.4 224.0,731.5 228.0,732.5 232.0,743.0 236.0,744.4 240.0,740.4 244.0,753.3 248.0,736.5 252.0,737.8 256.0,750.3 260.0,749.3 264.0,735.5 268.0,745.0 272.0,747.0 276.0,749.3 280.0,752.3 284.0,750.3 288.0,738.4 292.0,739.8 296.0,742.0 300.0,743.0 304.0,752.3 308.0,749.7 312.0,757.3 316.0,740.4 320.0,740.4 324.0,740.4 328.0,744.4 332.0,735.5 336.0,731.1 340.0,727.5 344.0,725.5 348.0,725.1 352.0,723.2 356.0,723.2 360.0,728.1 364.0,727.1 368.0,732.1 372.0,733.5 376.0,734.5 380.0,729.1 384.0,731.5 388.0,731.5 392.0,728.7 396.0,728.1 400.0,723.6 404.0,720.2 408.0,715.6 412.0,715.6 416.0,722.6 420.0,724.9 424.0,716.6 428.0,713.2 432.0,709.7 436.0,721.2 440.0,721.6 444.0,722.2 448.0,722.6 452.0,731.5 456.0,734.5 460.0,733.5 464.0,735.5 468.0,735.5 472.0,735.5 476.0,736.5 480.0,733.5 484.0,744.4 488.0,737.4 492.0,739.0 496.0,737.4 500.0,723.2 504.0,724.0 508.0,711.3 512.0,722.6 516.0,721.2 520.0,717.6 524.0,726.5 528.0,735.1 532.0,735.5 536.0,738.0 540.0,738.4 544.0,741.0 548.0,746.4 552.0,759.3 556.0,757.3 560.0,750.3 564.0,751.3 568.0,754.3 572.0,749.3 576.0,747.0 580.0,746.4 584.0,743.8 588.0,745.0 592.0,733.9 596.0,737.1 600.0,739.0 604.0,732.7 608.0,732.5 612.0,731.5 616.0,734.5 620.0,733.5 624.0,726.5 628.0,724.2 632.0,724.2 636.0,726.5 640.0,722.2 644.0,713.6 648.0,706.7 652.0,701.3 656.0,704.1 660.0,703.3 664.0,697.4 668.0,697.2 672.0,699.4 676.0,703.3 680.0,703.3 684.0,702.1 688.0,704.1 692.0,713.2 696.0,709.7 700.0,716.6 704.0,722.6 708.0,719.6 712.0,714.6 716.0,713.2 720.0,731.5 724.0,739.4 728.0,745.4 732.0,755.3 736.0,745.4 740.0,746.4 744.0,741.4 748.0,739.0 752.0,740.4 756.0,745.4 760.0,738.4 764.0,743.4 768.0,754.3 772.0,757.3 776.0,755.3 780.0,749.3 784.0,741.8 788.0,738.4 792.0,741.0 796.0,752.3 800.0,754.9 804.0,762.8 808.0,764.8 812.0,759.7 816.0,763.2 820.0,768.2 824.0,759.7 828.0,760.3 832.0,752.9 836.0,746.4 840.0,748.0 844.0,737.8 848.0,737.4 852.0,738.4 856.0,734.5 860.0,747.4 864.0,761.6 868.0,764.2 872.0,766.2 876.0,768.2 880.0,762.2 884.0,757.3 888.0,758.3 892.0,759.3 896.0,751.3 900.0,738.4 904.0,740.4 908.0,740.4 912.0,741.4 916.0,730.5 920.0,731.5 924.0,727.5 928.0,728.5 932.0,738.4 936.0,734.5 940.0,743.4 944.0,743.4 948.0,743.4 952.0,736.5 956.0,738.4 960.0,745.4 964.0,745.4 968.0,744.4 972.0,745.4 976.0,739.4 980.0,740.4 984.0,728.5 988.0,723.2 992.0,725.5 996.0,729.5 1000.0,733.5 1004.0,725.5 1008.0,733.5 1012.0,746.4 1016.0,746.4 1020.0,760.9 1024.0,750.3 1028.0,750.9 1032.0,752.3 1036.0,754.3 1040.0,756.3 1044.0,758.3 1048.0,744.4 1052.0,748.4 1056.0,743.4 1060.0,739.8 1064.0,737.8 1068.0,735.5 1072.0,740.4 1076.0,733.1 1080.0,731.5 1084.0,745.4 1088.0,747.4 1092.0,737.1 1096.0,734.5 1100.0,734.1 1104.0,727.5 1108.0,722.2 1112.0,724.2 1116.0,723.2 1120.0,729.5 1124.0,739.4 1128.0,735.1" fill="none" stroke="#1e90ff" stroke-width="1" shape-rendering="crispEdges"/>
</svg>
<div style="position:absolute;left:0;top:822px;width:1462px;height:2px;background:#e8e8e8"></div>
<div style="position:absolute;left:0;top:824px;width:1462px;height:1px;background:#000"></div>
<div id="tabs">
<span style="left:15.8px;letter-spacing:0.000px">EURUSD-,Daily</span>
<span style="left:123px;letter-spacing:0.162px">AUDUSD-,Daily</span>
<span style="left:339.8px;letter-spacing:0.031px">USDCAD-,Daily</span>
<span style="left:448.8px;letter-spacing:0.169px">USDCNH-,Daily</span>
<span style="left:560px;letter-spacing:-0.050px">EURCHF-,Weekly</span>
<span style="left:681px;letter-spacing:0.214px">XAUUSD-,Weekly</span>
<span style="left:803.8px;letter-spacing:-0.130px">GBPUSD-,H1</span>
<span style="left:900px;letter-spacing:0.189px">UKOil-,H1</span>
<span style="left:979px;letter-spacing:0.192px">USDX-,Weekly</span>
<i style="left:113px"></i>
<i style="left:437px"></i>
<i style="left:549px"></i>
<i style="left:669px"></i>
<i style="left:793px"></i>
<i style="left:889px"></i>
<i style="left:969px"></i>
<i style="left:1073px"></i>
</div>
<div style="position:absolute;left:0;top:824px;width:1px;height:19px;background:#696969"></div>
<div id="act"><span>USDCHF-,Daily</span></div>
<svg style="position:absolute;left:1430px;top:828px" width="32" height="12"><path d="M8 2v7l-3.5-3.5zM24 2v7l3.5-3.5z" fill="#a0a0a0"/></svg>
<div style="position:absolute;left:0;top:845px;width:1462px;height:3px;background:#fafafa"></div>
<div style="position:absolute;left:0;top:848px;width:1462px;height:1px;background:#a0a0a0"></div>
<div id="hdr">
<span style="right:1456px">时间</span>
<i style="left:11px"></i>
<span style="right:1326px">类型</span>
<i style="left:141px"></i>
<span style="right:1225px">手数</span>
<i style="left:242px"></i>
<span style="right:1098px">交易品种</span>
<i style="left:369px"></i>
<span style="right:950px">价格</span>
<i style="left:517px"></i>
<span style="right:805px">止损</span>
<i style="left:662px"></i>
<span style="right:659px">获利</span>
<i style="left:808px"></i>
<span style="right:515px">价格</span>
<i style="left:952px"></i>
<span style="right:370px">手续费</span>
<i style="left:1097px"></i>
<span style="right:225px">库存费</span>
<i style="left:1242px"></i>
<span style="right:5px">获利</span>
</div>
</body></html>
